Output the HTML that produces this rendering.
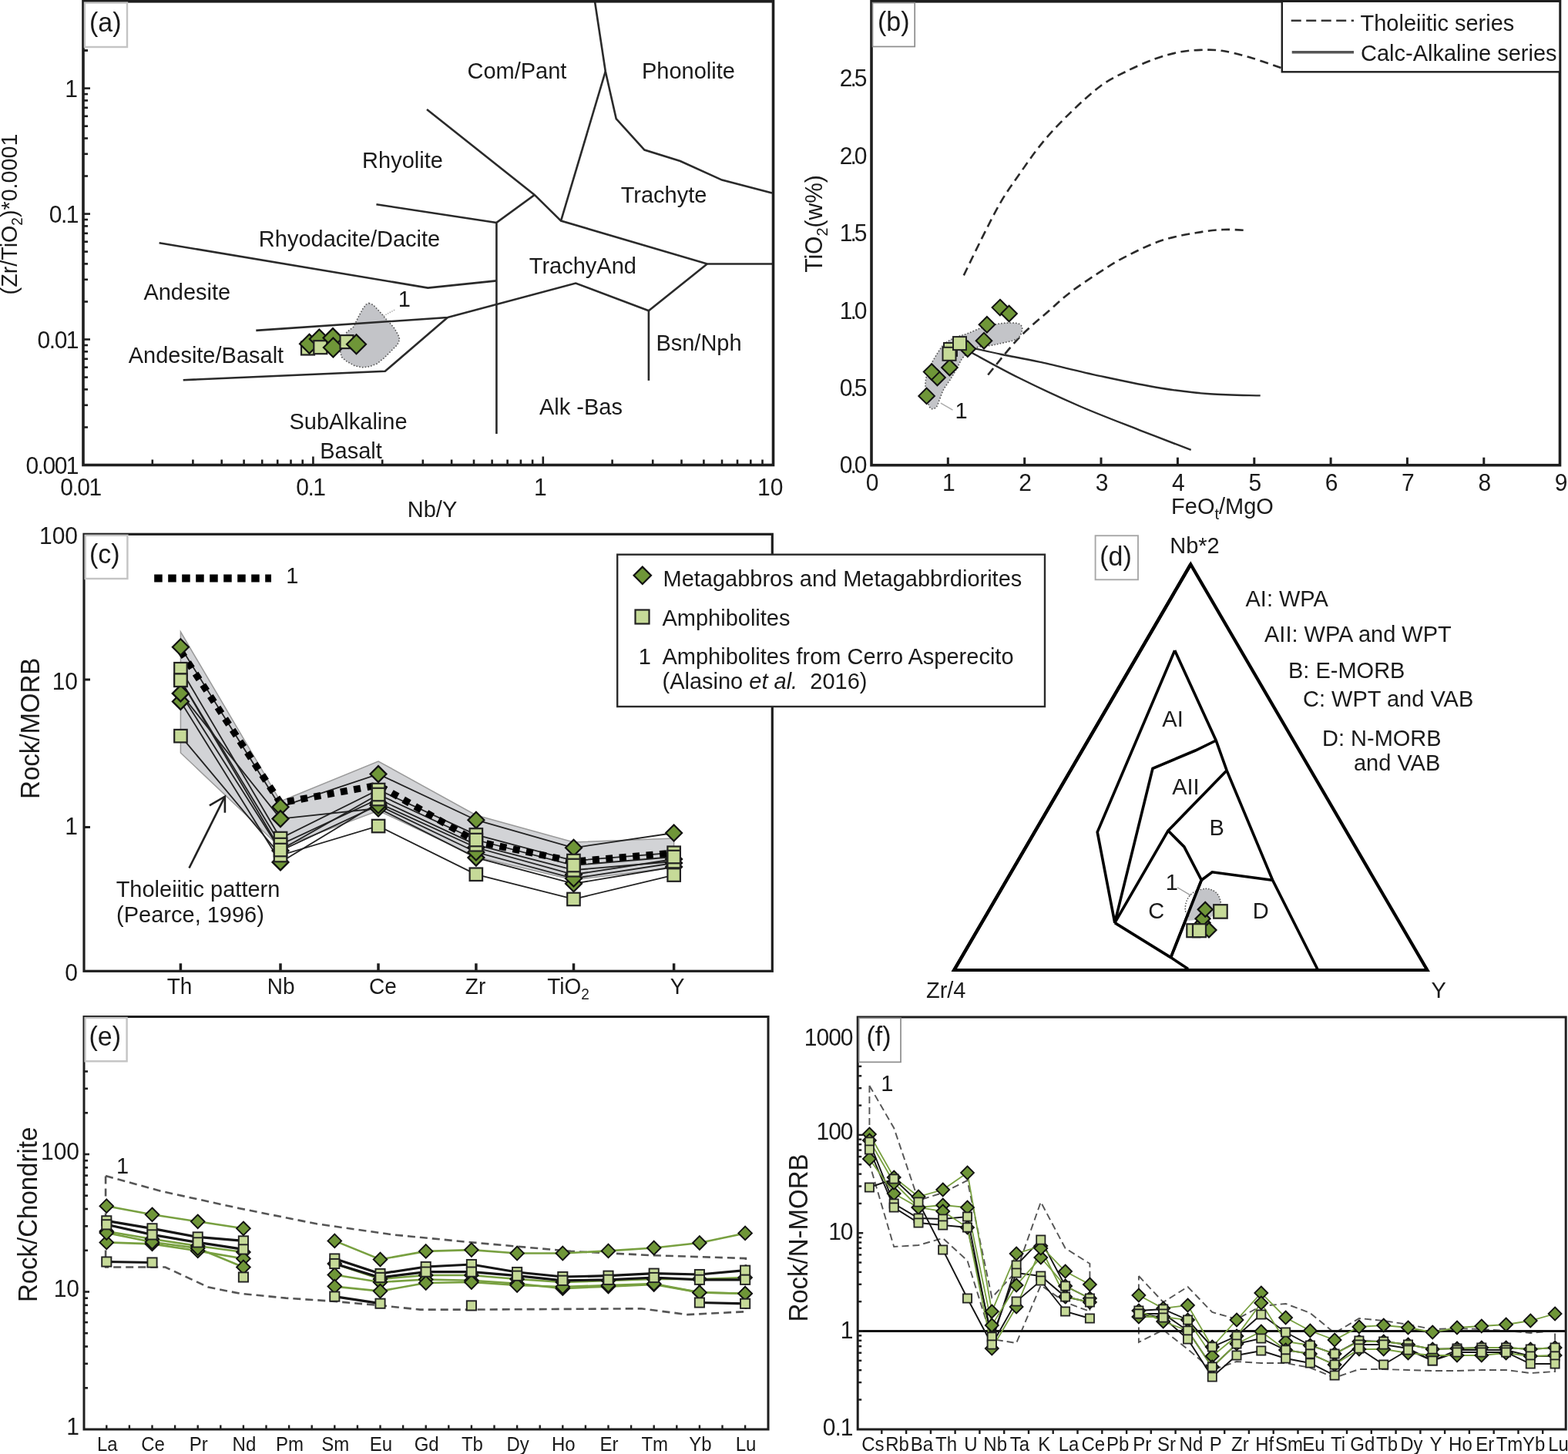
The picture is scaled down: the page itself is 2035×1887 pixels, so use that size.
<!DOCTYPE html>
<html><head><meta charset="utf-8"><title>Geochemical diagrams</title>
<style>
html,body{margin:0;padding:0;background:#fff;}
svg{display:block;font-family:'Liberation Sans', sans-serif;}
</style></head>
<body>
<svg width="2035" height="1887" viewBox="0 0 2035 1887">
<rect width="2035" height="1887" fill="#fff"/>
<polygon points="478.7,393.4 484.4,395.7 490.1,401.5 497.7,410.0 501.6,414.8 506.3,419.6 512.0,426.2 516.8,434.8 518.7,440.5 515.9,447.2 507.3,455.8 498.7,464.4 489.2,472.0 479.6,475.8 470.1,476.8 460.6,474.9 450.1,469.1 443.4,463.4 441.5,455.8 444.4,442.5 450.1,431.0 458.7,424.3 463.4,414.8 466.3,409.1 471.0,400.5 474.9,395.3" fill="#c3c4c8" stroke="#555" stroke-width="1.6" stroke-dasharray="1.6 2.2" stroke-linejoin="miter" />
<line x1="497.7" y1="410.0" x2="513.5" y2="401.5" stroke="#aaa" stroke-width="1.5" stroke-dasharray="1.5 1.5"/>
<polyline points="772.0,2.0 785.8,92.7 799.7,154.1 836.4,194.6 882.8,209.0 937.0,233.6 1002.0,250.5" fill="none" stroke="#2a2a2a" stroke-width="2.6" stroke-linejoin="miter" />
<polyline points="785.8,92.7 728.0,286.6" fill="none" stroke="#2a2a2a" stroke-width="2.6" stroke-linejoin="miter" />
<polyline points="554.0,142.1 693.8,252.9 728.0,286.6 917.8,342.5 1002.0,342.5" fill="none" stroke="#2a2a2a" stroke-width="2.6" stroke-linejoin="miter" />
<polyline points="693.8,252.9 644.4,289.0 644.4,563.0" fill="none" stroke="#2a2a2a" stroke-width="2.6" stroke-linejoin="miter" />
<polyline points="488.4,265.2 644.4,289.0" fill="none" stroke="#2a2a2a" stroke-width="2.6" stroke-linejoin="miter" />
<polyline points="206.6,315.2 555.3,373.6 644.4,364.4" fill="none" stroke="#2a2a2a" stroke-width="2.6" stroke-linejoin="miter" />
<polyline points="332.3,428.9 580.9,412.0 747.2,367.5 841.9,403.3 917.8,342.5" fill="none" stroke="#2a2a2a" stroke-width="2.6" stroke-linejoin="miter" />
<polyline points="841.9,403.3 841.9,493.9" fill="none" stroke="#2a2a2a" stroke-width="2.6" stroke-linejoin="miter" />
<polyline points="237.7,493.2 499.8,481.8 580.9,412.0" fill="none" stroke="#2a2a2a" stroke-width="2.6" stroke-linejoin="miter" />
<rect x="391.0" y="443.5" width="17.0" height="17.0" fill="#c6da98" stroke="#222" stroke-width="2.2"/>
<polygon points="401.5,433.8 414.0,446.3 401.5,458.8 389.0,446.3" fill="#6f9638" stroke="#111" stroke-width="2.2"/>
<polygon points="414.3,427.5 426.8,440.0 414.3,452.5 401.8,440.0" fill="#6f9638" stroke="#111" stroke-width="2.2"/>
<rect x="407.3" y="442.2" width="17.0" height="17.0" fill="#c6da98" stroke="#222" stroke-width="2.2"/>
<polygon points="432.0,426.1 444.5,438.6 432.0,451.1 419.5,438.6" fill="#6f9638" stroke="#111" stroke-width="2.2"/>
<polygon points="432.4,438.5 444.9,451.0 432.4,463.5 419.9,451.0" fill="#6f9638" stroke="#111" stroke-width="2.2"/>
<rect x="441.5" y="435.1" width="17.0" height="17.0" fill="#c6da98" stroke="#222" stroke-width="2.2"/>
<polygon points="462.5,434.2 475.0,446.7 462.5,459.2 450.0,446.7" fill="#6f9638" stroke="#111" stroke-width="2.2"/>
<rect x="108.0" y="1.8" width="895.5" height="601.7" fill="none" stroke="#1e1e1e" stroke-width="3.6"/>
<line x1="108.0" y1="554.5" x2="114.0" y2="554.5" stroke="#1e1e1e" stroke-width="2.6" />
<line x1="108.0" y1="525.8" x2="114.0" y2="525.8" stroke="#1e1e1e" stroke-width="2.6" />
<line x1="108.0" y1="505.4" x2="114.0" y2="505.4" stroke="#1e1e1e" stroke-width="2.6" />
<line x1="108.0" y1="489.6" x2="114.0" y2="489.6" stroke="#1e1e1e" stroke-width="2.6" />
<line x1="108.0" y1="476.7" x2="114.0" y2="476.7" stroke="#1e1e1e" stroke-width="2.6" />
<line x1="108.0" y1="465.8" x2="114.0" y2="465.8" stroke="#1e1e1e" stroke-width="2.6" />
<line x1="108.0" y1="456.3" x2="114.0" y2="456.3" stroke="#1e1e1e" stroke-width="2.6" />
<line x1="108.0" y1="448.0" x2="114.0" y2="448.0" stroke="#1e1e1e" stroke-width="2.6" />
<line x1="108.0" y1="440.5" x2="117.0" y2="440.5" stroke="#1e1e1e" stroke-width="2.6" />
<line x1="108.0" y1="391.5" x2="114.0" y2="391.5" stroke="#1e1e1e" stroke-width="2.6" />
<line x1="108.0" y1="362.8" x2="114.0" y2="362.8" stroke="#1e1e1e" stroke-width="2.6" />
<line x1="108.0" y1="342.4" x2="114.0" y2="342.4" stroke="#1e1e1e" stroke-width="2.6" />
<line x1="108.0" y1="326.6" x2="114.0" y2="326.6" stroke="#1e1e1e" stroke-width="2.6" />
<line x1="108.0" y1="313.7" x2="114.0" y2="313.7" stroke="#1e1e1e" stroke-width="2.6" />
<line x1="108.0" y1="302.8" x2="114.0" y2="302.8" stroke="#1e1e1e" stroke-width="2.6" />
<line x1="108.0" y1="293.4" x2="114.0" y2="293.4" stroke="#1e1e1e" stroke-width="2.6" />
<line x1="108.0" y1="285.0" x2="114.0" y2="285.0" stroke="#1e1e1e" stroke-width="2.6" />
<line x1="108.0" y1="277.6" x2="117.0" y2="277.6" stroke="#1e1e1e" stroke-width="2.6" />
<line x1="108.0" y1="228.5" x2="114.0" y2="228.5" stroke="#1e1e1e" stroke-width="2.6" />
<line x1="108.0" y1="199.8" x2="114.0" y2="199.8" stroke="#1e1e1e" stroke-width="2.6" />
<line x1="108.0" y1="179.5" x2="114.0" y2="179.5" stroke="#1e1e1e" stroke-width="2.6" />
<line x1="108.0" y1="163.7" x2="114.0" y2="163.7" stroke="#1e1e1e" stroke-width="2.6" />
<line x1="108.0" y1="150.8" x2="114.0" y2="150.8" stroke="#1e1e1e" stroke-width="2.6" />
<line x1="108.0" y1="139.8" x2="114.0" y2="139.8" stroke="#1e1e1e" stroke-width="2.6" />
<line x1="108.0" y1="130.4" x2="114.0" y2="130.4" stroke="#1e1e1e" stroke-width="2.6" />
<line x1="108.0" y1="122.1" x2="114.0" y2="122.1" stroke="#1e1e1e" stroke-width="2.6" />
<line x1="108.0" y1="114.6" x2="117.0" y2="114.6" stroke="#1e1e1e" stroke-width="2.6" />
<line x1="108.0" y1="65.5" x2="114.0" y2="65.5" stroke="#1e1e1e" stroke-width="2.6" />
<line x1="108.0" y1="36.8" x2="114.0" y2="36.8" stroke="#1e1e1e" stroke-width="2.6" />
<line x1="108.0" y1="16.5" x2="114.0" y2="16.5" stroke="#1e1e1e" stroke-width="2.6" />
<line x1="108.0" y1="65.5" x2="114.0" y2="65.5" stroke="#1e1e1e" stroke-width="2.6" />
<line x1="108.0" y1="36.8" x2="114.0" y2="36.8" stroke="#1e1e1e" stroke-width="2.6" />
<line x1="108.0" y1="16.5" x2="114.0" y2="16.5" stroke="#1e1e1e" stroke-width="2.6" />
<line x1="197.8" y1="603.5" x2="197.8" y2="596.5" stroke="#1e1e1e" stroke-width="2.6" />
<line x1="250.4" y1="603.5" x2="250.4" y2="596.5" stroke="#1e1e1e" stroke-width="2.6" />
<line x1="287.7" y1="603.5" x2="287.7" y2="596.5" stroke="#1e1e1e" stroke-width="2.6" />
<line x1="316.6" y1="603.5" x2="316.6" y2="596.5" stroke="#1e1e1e" stroke-width="2.6" />
<line x1="340.2" y1="603.5" x2="340.2" y2="596.5" stroke="#1e1e1e" stroke-width="2.6" />
<line x1="360.2" y1="603.5" x2="360.2" y2="596.5" stroke="#1e1e1e" stroke-width="2.6" />
<line x1="377.5" y1="603.5" x2="377.5" y2="596.5" stroke="#1e1e1e" stroke-width="2.6" />
<line x1="392.7" y1="603.5" x2="392.7" y2="596.5" stroke="#1e1e1e" stroke-width="2.6" />
<line x1="406.4" y1="603.5" x2="406.4" y2="592.5" stroke="#1e1e1e" stroke-width="2.6" />
<line x1="496.2" y1="603.5" x2="496.2" y2="596.5" stroke="#1e1e1e" stroke-width="2.6" />
<line x1="548.8" y1="603.5" x2="548.8" y2="596.5" stroke="#1e1e1e" stroke-width="2.6" />
<line x1="586.1" y1="603.5" x2="586.1" y2="596.5" stroke="#1e1e1e" stroke-width="2.6" />
<line x1="615.0" y1="603.5" x2="615.0" y2="596.5" stroke="#1e1e1e" stroke-width="2.6" />
<line x1="638.6" y1="603.5" x2="638.6" y2="596.5" stroke="#1e1e1e" stroke-width="2.6" />
<line x1="658.6" y1="603.5" x2="658.6" y2="596.5" stroke="#1e1e1e" stroke-width="2.6" />
<line x1="675.9" y1="603.5" x2="675.9" y2="596.5" stroke="#1e1e1e" stroke-width="2.6" />
<line x1="691.1" y1="603.5" x2="691.1" y2="596.5" stroke="#1e1e1e" stroke-width="2.6" />
<line x1="704.8" y1="603.5" x2="704.8" y2="592.5" stroke="#1e1e1e" stroke-width="2.6" />
<line x1="794.6" y1="603.5" x2="794.6" y2="596.5" stroke="#1e1e1e" stroke-width="2.6" />
<line x1="847.2" y1="603.5" x2="847.2" y2="596.5" stroke="#1e1e1e" stroke-width="2.6" />
<line x1="884.5" y1="603.5" x2="884.5" y2="596.5" stroke="#1e1e1e" stroke-width="2.6" />
<line x1="913.4" y1="603.5" x2="913.4" y2="596.5" stroke="#1e1e1e" stroke-width="2.6" />
<line x1="937.0" y1="603.5" x2="937.0" y2="596.5" stroke="#1e1e1e" stroke-width="2.6" />
<line x1="957.0" y1="603.5" x2="957.0" y2="596.5" stroke="#1e1e1e" stroke-width="2.6" />
<line x1="974.3" y1="603.5" x2="974.3" y2="596.5" stroke="#1e1e1e" stroke-width="2.6" />
<line x1="989.5" y1="603.5" x2="989.5" y2="596.5" stroke="#1e1e1e" stroke-width="2.6" />
<text transform="translate(101.0,126.1) scale(1,1.04)" font-size="30" text-anchor="end" fill="#1a1a1a" >1</text>
<text transform="translate(101.0,289.1) scale(1,1.04)" font-size="30" text-anchor="end" fill="#1a1a1a" letter-spacing="-1.5">0.1</text>
<text transform="translate(101.0,452.0) scale(1,1.04)" font-size="30" text-anchor="end" fill="#1a1a1a" letter-spacing="-1.5">0.01</text>
<text transform="translate(101.0,615.0) scale(1,1.04)" font-size="30" text-anchor="end" fill="#1a1a1a" letter-spacing="-1.5">0.001</text>
<text transform="translate(104.5,642.8) scale(1,1.04)" font-size="30" text-anchor="middle" fill="#1a1a1a" letter-spacing="-1.5">0.01</text>
<text transform="translate(402.9,642.8) scale(1,1.04)" font-size="30" text-anchor="middle" fill="#1a1a1a" letter-spacing="-1.5">0.1</text>
<text transform="translate(701.3,642.8) scale(1,1.04)" font-size="30" text-anchor="middle" fill="#1a1a1a" >1</text>
<text transform="translate(999.7,642.8) scale(1,1.04)" font-size="30" text-anchor="middle" fill="#1a1a1a" >10</text>
<text transform="translate(561.0,671.0) scale(1,1.04)" font-size="29" text-anchor="middle" fill="#1a1a1a" >Nb/Y</text>
<text transform="translate(22.0,278.0) rotate(-90) scale(1,1.04)" font-size="28.7" text-anchor="middle" fill="#1a1a1a" >(Zr/TiO<tspan font-size="19" dy="7">2</tspan><tspan dy="-7">)*0.0001</tspan></text>
<text transform="translate(670.9,101.6) scale(1,1.04)" font-size="29" text-anchor="middle" fill="#1a1a1a" >Com/Pant</text>
<text transform="translate(893.4,101.6) scale(1,1.04)" font-size="29" text-anchor="middle" fill="#1a1a1a" >Phonolite</text>
<text transform="translate(522.5,218.2) scale(1,1.04)" font-size="29" text-anchor="middle" fill="#1a1a1a" >Rhyolite</text>
<text transform="translate(861.5,263.0) scale(1,1.04)" font-size="29" text-anchor="middle" fill="#1a1a1a" >Trachyte</text>
<text transform="translate(453.5,320.0) scale(1,1.04)" font-size="29" text-anchor="middle" fill="#1a1a1a" >Rhyodacite/Dacite</text>
<text transform="translate(756.4,355.3) scale(1,1.04)" font-size="29" text-anchor="middle" fill="#1a1a1a" >TrachyAnd</text>
<text transform="translate(242.8,388.6) scale(1,1.04)" font-size="29" text-anchor="middle" fill="#1a1a1a" >Andesite</text>
<text transform="translate(907.0,454.7) scale(1,1.04)" font-size="29" text-anchor="middle" fill="#1a1a1a" >Bsn/Nph</text>
<text transform="translate(267.4,470.9) scale(1,1.04)" font-size="29" text-anchor="middle" fill="#1a1a1a" >Andesite/Basalt</text>
<text transform="translate(754.0,537.5) scale(1,1.04)" font-size="29" text-anchor="middle" fill="#1a1a1a" >Alk -Bas</text>
<text transform="translate(452.0,557.3) scale(1,1.04)" font-size="29" text-anchor="middle" fill="#1a1a1a" >SubAlkaline</text>
<text transform="translate(455.5,594.8) scale(1,1.04)" font-size="29" text-anchor="middle" fill="#1a1a1a" >Basalt</text>
<text transform="translate(524.8,398.2) scale(1,1.04)" font-size="29" text-anchor="middle" fill="#1a1a1a" >1</text>
<rect x="110.0" y="3.6" width="55.0" height="57.4" fill="#fff" stroke="#c4c4c4" stroke-width="2.4"/>
<text transform="translate(116.0,40.5) scale(1,1.04)" font-size="34" text-anchor="start" fill="#1a1a1a" >(a)</text>
<path d="M1250.8,357.4 C1255.0,348.7 1268.1,321.4 1276.2,305.4 C1284.3,289.4 1291.5,274.7 1299.2,261.6 C1306.9,248.5 1313.1,240.1 1322.3,227.0 C1331.5,213.9 1343.0,196.9 1354.6,183.1 C1366.1,169.2 1379.3,155.8 1391.6,143.9 C1403.9,132.0 1417.0,120.0 1428.5,111.5 C1440.0,103.0 1449.3,98.9 1460.8,93.1 C1472.3,87.3 1486.2,81.1 1497.7,76.9 C1509.2,72.7 1520.0,69.7 1530.0,67.7 C1540.0,65.7 1548.5,65.2 1557.7,64.9 C1566.9,64.6 1574.6,64.2 1585.4,65.8 C1596.2,67.4 1609.3,70.8 1622.4,74.6 C1635.5,78.4 1657.0,86.2 1663.9,88.5" fill="none" stroke="#2a2a2a" stroke-width="2.6" stroke-dasharray="11 6.5"/>
<path d="M1282.2,486.5 C1288.9,478.5 1309.3,452.2 1322.6,438.3 C1335.9,424.4 1350.7,412.8 1361.8,403.0 C1372.9,393.2 1378.5,387.5 1389.2,379.3 C1399.9,371.1 1414.3,361.6 1426.2,353.9 C1438.1,346.2 1447.3,340.0 1460.8,333.1 C1474.3,326.2 1491.6,317.5 1507.0,312.3 C1522.4,307.1 1539.6,304.4 1553.1,302.0 C1566.5,299.6 1576.7,298.5 1587.7,298.0 C1598.7,297.5 1613.7,298.8 1618.9,299.0" fill="none" stroke="#2a2a2a" stroke-width="2.6" stroke-dasharray="11 6.5"/>
<path d="M1201.3,505.6 C1201.0,501.6 1200.7,498.6 1201.3,494.3 C1201.9,490.0 1203.3,484.6 1205.0,480.0 C1206.7,475.4 1208.4,472.0 1211.7,466.6 C1215.0,461.2 1219.9,452.3 1224.6,447.5 C1229.3,442.7 1234.8,440.4 1240.0,438.0 C1245.2,435.6 1250.0,435.0 1255.8,432.8 C1261.6,430.6 1268.8,427.0 1275.0,425.0 C1281.2,423.0 1287.2,421.7 1293.0,420.7 C1298.8,419.7 1304.9,419.0 1310.0,419.0 C1315.1,419.0 1320.7,419.1 1323.4,420.7 C1326.2,422.3 1327.1,425.3 1326.5,428.5 C1325.9,431.7 1324.6,436.9 1319.9,439.8 C1315.2,442.7 1304.1,444.4 1298.3,445.8 C1292.5,447.2 1290.3,447.5 1285.3,448.4 C1280.2,449.3 1273.8,448.6 1268.0,451.0 C1262.2,453.4 1254.9,458.6 1250.6,463.1 C1246.3,467.6 1244.9,473.0 1242.0,477.9 C1239.1,482.8 1236.2,488.0 1233.3,492.6 C1230.4,497.2 1226.9,501.3 1224.6,505.6 C1222.3,509.9 1221.0,514.8 1219.4,518.6 C1217.8,522.4 1216.9,526.6 1215.0,528.5 C1213.1,530.4 1210.0,531.6 1208.0,530.0 C1206.0,528.4 1204.1,522.7 1203.0,518.6 C1201.9,514.5 1201.6,509.7 1201.3,505.6 Z" fill="#c3c4c8" stroke="#555" stroke-width="1.6" stroke-dasharray="1.6 2.2"/>
<path d="M1259.4,451.0 C1266.2,452.5 1285.1,456.9 1300.0,460.0 C1314.9,463.1 1327.5,465.0 1348.7,469.6 C1369.9,474.2 1400.9,482.2 1427.0,487.8 C1453.1,493.4 1481.4,499.6 1505.3,503.5 C1529.2,507.4 1548.8,509.7 1570.5,511.3 C1592.2,513.0 1624.8,513.0 1635.7,513.4" fill="none" stroke="#2a2a2a" stroke-width="2.4"/>
<path d="M1258.0,456.0 C1268.8,461.8 1298.8,478.7 1322.6,490.5 C1346.4,502.3 1374.9,515.7 1401.0,527.0 C1427.1,538.3 1455.1,548.8 1479.2,558.3 C1503.3,567.8 1534.6,579.6 1545.7,583.9" fill="none" stroke="#2a2a2a" stroke-width="2.4"/>
<line x1="1220.9" y1="523.1" x2="1236.5" y2="532.2" stroke="#aaa" stroke-width="1.5" />
<text transform="translate(1247.6,542.6) scale(1,1.04)" font-size="29" text-anchor="middle" fill="#1a1a1a" >1</text>
<polygon points="1202.6,503.6 1212.9,513.9 1202.6,524.2 1192.3,513.9" fill="#6f9638" stroke="#111" stroke-width="2"/>
<polygon points="1216.5,479.7 1226.8,490.0 1216.5,500.3 1206.2,490.0" fill="#6f9638" stroke="#111" stroke-width="2"/>
<polygon points="1209.1,472.3 1219.4,482.6 1209.1,492.9 1198.8,482.6" fill="#6f9638" stroke="#111" stroke-width="2"/>
<polygon points="1232.4,466.7 1242.7,477.0 1232.4,487.3 1222.1,477.0" fill="#6f9638" stroke="#111" stroke-width="2"/>
<rect x="1225.0" y="445.0" width="17.0" height="17.0" fill="#c6da98" stroke="#222" stroke-width="2"/>
<rect x="1223.5" y="450.8" width="17.0" height="17.0" fill="#c6da98" stroke="#222" stroke-width="2"/>
<polygon points="1255.8,442.4 1266.1,452.7 1255.8,463.0 1245.5,452.7" fill="#6f9638" stroke="#111" stroke-width="2"/>
<rect x="1237.0" y="437.1" width="17.0" height="17.0" fill="#c6da98" stroke="#222" stroke-width="2"/>
<polygon points="1277.0,431.9 1287.3,442.2 1277.0,452.5 1266.7,442.2" fill="#6f9638" stroke="#111" stroke-width="2"/>
<polygon points="1280.9,411.0 1291.2,421.3 1280.9,431.6 1270.6,421.3" fill="#6f9638" stroke="#111" stroke-width="2"/>
<polygon points="1297.9,388.8 1308.2,399.1 1297.9,409.4 1287.6,399.1" fill="#6f9638" stroke="#111" stroke-width="2"/>
<polygon points="1309.6,396.7 1319.9,407.0 1309.6,417.3 1299.3,407.0" fill="#6f9638" stroke="#111" stroke-width="2"/>
<rect x="1131.0" y="1.8" width="893.5" height="601.9" fill="none" stroke="#1e1e1e" stroke-width="3.6"/>
<line x1="1230.3" y1="603.7" x2="1230.3" y2="593.7" stroke="#1e1e1e" stroke-width="3" />
<line x1="1329.7" y1="603.7" x2="1329.7" y2="593.7" stroke="#1e1e1e" stroke-width="3" />
<line x1="1429.0" y1="603.7" x2="1429.0" y2="593.7" stroke="#1e1e1e" stroke-width="3" />
<line x1="1528.4" y1="603.7" x2="1528.4" y2="593.7" stroke="#1e1e1e" stroke-width="3" />
<line x1="1627.8" y1="603.7" x2="1627.8" y2="593.7" stroke="#1e1e1e" stroke-width="3" />
<line x1="1727.1" y1="603.7" x2="1727.1" y2="593.7" stroke="#1e1e1e" stroke-width="3" />
<line x1="1826.4" y1="603.7" x2="1826.4" y2="593.7" stroke="#1e1e1e" stroke-width="3" />
<line x1="1925.8" y1="603.7" x2="1925.8" y2="593.7" stroke="#1e1e1e" stroke-width="3" />
<text transform="translate(1132.0,636.5) scale(1,1.04)" font-size="30" text-anchor="middle" fill="#1a1a1a" >0</text>
<text transform="translate(1231.3,636.5) scale(1,1.04)" font-size="30" text-anchor="middle" fill="#1a1a1a" >1</text>
<text transform="translate(1330.7,636.5) scale(1,1.04)" font-size="30" text-anchor="middle" fill="#1a1a1a" >2</text>
<text transform="translate(1430.0,636.5) scale(1,1.04)" font-size="30" text-anchor="middle" fill="#1a1a1a" >3</text>
<text transform="translate(1529.4,636.5) scale(1,1.04)" font-size="30" text-anchor="middle" fill="#1a1a1a" >4</text>
<text transform="translate(1628.8,636.5) scale(1,1.04)" font-size="30" text-anchor="middle" fill="#1a1a1a" >5</text>
<text transform="translate(1728.1,636.5) scale(1,1.04)" font-size="30" text-anchor="middle" fill="#1a1a1a" >6</text>
<text transform="translate(1827.4,636.5) scale(1,1.04)" font-size="30" text-anchor="middle" fill="#1a1a1a" >7</text>
<text transform="translate(1926.8,636.5) scale(1,1.04)" font-size="30" text-anchor="middle" fill="#1a1a1a" >8</text>
<text transform="translate(2026.2,636.5) scale(1,1.04)" font-size="30" text-anchor="middle" fill="#1a1a1a" >9</text>
<text transform="translate(1122.5,614.4) scale(1,1.04)" font-size="30" text-anchor="end" fill="#1a1a1a" letter-spacing="-3">0.0</text>
<text transform="translate(1122.5,514.0) scale(1,1.04)" font-size="30" text-anchor="end" fill="#1a1a1a" letter-spacing="-3">0.5</text>
<text transform="translate(1122.5,413.5) scale(1,1.04)" font-size="30" text-anchor="end" fill="#1a1a1a" letter-spacing="-3">1.0</text>
<text transform="translate(1122.5,313.1) scale(1,1.04)" font-size="30" text-anchor="end" fill="#1a1a1a" letter-spacing="-3">1.5</text>
<text transform="translate(1122.5,212.6) scale(1,1.04)" font-size="30" text-anchor="end" fill="#1a1a1a" letter-spacing="-3">2.0</text>
<text transform="translate(1122.5,112.2) scale(1,1.04)" font-size="30" text-anchor="end" fill="#1a1a1a" letter-spacing="-3">2.5</text>
<text transform="translate(1586.5,667.2) scale(1,1.04)" font-size="29" text-anchor="middle" fill="#1a1a1a" >FeO<tspan font-size="20" dy="7">t</tspan><tspan dy="-7">/MgO</tspan></text>
<text transform="translate(1067.0,290.5) rotate(-90) scale(1,1.04)" font-size="30" text-anchor="middle" fill="#1a1a1a" >TiO<tspan font-size="20" dy="7">2</tspan><tspan dy="-7">(w%)</tspan></text>
<rect x="1663.8" y="1.8" width="360.7" height="91.5" fill="#fff" stroke="#1e1e1e" stroke-width="2.4"/>
<line x1="1675.7" y1="26.8" x2="1757.0" y2="26.8" stroke="#333" stroke-width="2.5" stroke-dasharray="13 6.5"/>
<line x1="1676.7" y1="67.8" x2="1757.0" y2="67.8" stroke="#555" stroke-width="3.6" />
<text transform="translate(1765.5,39.6) scale(1,1.04)" font-size="29" text-anchor="start" fill="#1a1a1a" >Tholeiitic series</text>
<text transform="translate(1766.0,78.9) scale(1,1.04)" font-size="29" text-anchor="start" fill="#1a1a1a" >Calc-Alkaline series</text>
<rect x="1132.5" y="3.6" width="54.7" height="56.9" fill="#fff" stroke="#8c8c8c" stroke-width="1.7"/>
<text transform="translate(1139.0,40.4) scale(1,1.04)" font-size="34" text-anchor="start" fill="#1a1a1a" >(b)</text>
<polygon points="234.4,820.0 364.0,1040.0 491.0,988.0 617.9,1058.0 744.5,1093.0 874.6,1088.0 874.6,1126.0 744.5,1142.0 617.9,1112.0 491.0,1052.0 364.0,1100.0 234.4,977.0" fill="#d2d3d6" stroke="#9a9a9a" stroke-width="1.5" stroke-linejoin="miter" />
<polyline points="234.4,839.8 364.0,1047.2 491.0,1004.6 617.9,1064.2 744.5,1100.3 874.6,1081.0" fill="none" stroke="#222" stroke-width="1.8" stroke-linejoin="miter" />
<polyline points="234.4,868.2 364.0,1088.0 491.0,1025.0 617.9,1083.4 744.5,1117.1 874.6,1106.7" fill="none" stroke="#222" stroke-width="1.8" stroke-linejoin="miter" />
<polyline points="234.4,882.8 364.0,1096.0 491.0,1037.0 617.9,1096.3 744.5,1129.2 874.6,1118.0" fill="none" stroke="#222" stroke-width="1.8" stroke-linejoin="miter" />
<polyline points="234.4,899.9 364.0,1062.6 491.0,1049.0 617.9,1113.1 744.5,1146.8 874.6,1125.0" fill="none" stroke="#222" stroke-width="1.8" stroke-linejoin="miter" />
<polyline points="234.4,910.4 364.0,1118.9 491.0,1042.0 617.9,1100.0 744.5,1135.0 874.6,1115.0" fill="none" stroke="#222" stroke-width="1.8" stroke-linejoin="miter" />
<polyline points="234.4,955.1 364.0,1110.0 491.0,1072.0 617.9,1134.8 744.5,1166.9 874.6,1135.6" fill="none" stroke="#222" stroke-width="1.8" stroke-linejoin="miter" />
<polyline points="234.4,882.8 364.0,1103.0 491.0,1031.0 617.9,1090.0 744.5,1123.0 874.6,1112.0" fill="none" stroke="#222" stroke-width="1.8" stroke-linejoin="miter" />
<polyline points="234.4,899.9 364.0,1104.0 491.0,1045.0 617.9,1106.0 744.5,1140.0 874.6,1120.0" fill="none" stroke="#222" stroke-width="1.8" stroke-linejoin="miter" />
<polyline points="234.4,845.0 364.0,1042.0 491.0,1019.0 617.9,1092.0 744.5,1118.0 874.6,1107.0" fill="none" stroke="#000" stroke-width="9" stroke-dasharray="9 8.5" stroke-linejoin="miter" />
<polygon points="234.4,829.3 244.9,839.8 234.4,850.3 223.9,839.8" fill="#6f9638" stroke="#111" stroke-width="2.2"/>
<polygon points="364.0,1036.7 374.5,1047.2 364.0,1057.7 353.5,1047.2" fill="#6f9638" stroke="#111" stroke-width="2.2"/>
<polygon points="491.0,994.1 501.5,1004.6 491.0,1015.1 480.5,1004.6" fill="#6f9638" stroke="#111" stroke-width="2.2"/>
<polygon points="617.9,1053.7 628.4,1064.2 617.9,1074.7 607.4,1064.2" fill="#6f9638" stroke="#111" stroke-width="2.2"/>
<polygon points="744.5,1089.8 755.0,1100.3 744.5,1110.8 734.0,1100.3" fill="#6f9638" stroke="#111" stroke-width="2.2"/>
<polygon points="874.6,1070.5 885.1,1081.0 874.6,1091.5 864.1,1081.0" fill="#6f9638" stroke="#111" stroke-width="2.2"/>
<polygon points="234.4,889.4 244.9,899.9 234.4,910.4 223.9,899.9" fill="#6f9638" stroke="#111" stroke-width="2.2"/>
<polygon points="364.0,1052.1 374.5,1062.6 364.0,1073.1 353.5,1062.6" fill="#6f9638" stroke="#111" stroke-width="2.2"/>
<polygon points="491.0,1038.5 501.5,1049.0 491.0,1059.5 480.5,1049.0" fill="#6f9638" stroke="#111" stroke-width="2.2"/>
<polygon points="617.9,1102.6 628.4,1113.1 617.9,1123.6 607.4,1113.1" fill="#6f9638" stroke="#111" stroke-width="2.2"/>
<polygon points="744.5,1136.3 755.0,1146.8 744.5,1157.3 734.0,1146.8" fill="#6f9638" stroke="#111" stroke-width="2.2"/>
<polygon points="874.6,1114.5 885.1,1125.0 874.6,1135.5 864.1,1125.0" fill="#6f9638" stroke="#111" stroke-width="2.2"/>
<polygon points="234.4,899.9 244.9,910.4 234.4,920.9 223.9,910.4" fill="#6f9638" stroke="#111" stroke-width="2.2"/>
<polygon points="364.0,1108.4 374.5,1118.9 364.0,1129.4 353.5,1118.9" fill="#6f9638" stroke="#111" stroke-width="2.2"/>
<polygon points="491.0,1031.5 501.5,1042.0 491.0,1052.5 480.5,1042.0" fill="#6f9638" stroke="#111" stroke-width="2.2"/>
<polygon points="617.9,1089.5 628.4,1100.0 617.9,1110.5 607.4,1100.0" fill="#6f9638" stroke="#111" stroke-width="2.2"/>
<polygon points="744.5,1124.5 755.0,1135.0 744.5,1145.5 734.0,1135.0" fill="#6f9638" stroke="#111" stroke-width="2.2"/>
<polygon points="874.6,1104.5 885.1,1115.0 874.6,1125.5 864.1,1115.0" fill="#6f9638" stroke="#111" stroke-width="2.2"/>
<polygon points="234.4,889.4 244.9,899.9 234.4,910.4 223.9,899.9" fill="#6f9638" stroke="#111" stroke-width="2.2"/>
<polygon points="364.0,1093.5 374.5,1104.0 364.0,1114.5 353.5,1104.0" fill="#6f9638" stroke="#111" stroke-width="2.2"/>
<polygon points="491.0,1034.5 501.5,1045.0 491.0,1055.5 480.5,1045.0" fill="#6f9638" stroke="#111" stroke-width="2.2"/>
<polygon points="617.9,1095.5 628.4,1106.0 617.9,1116.5 607.4,1106.0" fill="#6f9638" stroke="#111" stroke-width="2.2"/>
<polygon points="744.5,1129.5 755.0,1140.0 744.5,1150.5 734.0,1140.0" fill="#6f9638" stroke="#111" stroke-width="2.2"/>
<polygon points="874.6,1109.5 885.1,1120.0 874.6,1130.5 864.1,1120.0" fill="#6f9638" stroke="#111" stroke-width="2.2"/>
<rect x="226.2" y="860.0" width="16.5" height="16.5" fill="#c6da98" stroke="#222" stroke-width="2.2"/>
<rect x="355.8" y="1079.8" width="16.5" height="16.5" fill="#c6da98" stroke="#222" stroke-width="2.2"/>
<rect x="482.8" y="1016.8" width="16.5" height="16.5" fill="#c6da98" stroke="#222" stroke-width="2.2"/>
<rect x="609.6" y="1075.2" width="16.5" height="16.5" fill="#c6da98" stroke="#222" stroke-width="2.2"/>
<rect x="736.2" y="1108.8" width="16.5" height="16.5" fill="#c6da98" stroke="#222" stroke-width="2.2"/>
<rect x="866.4" y="1098.5" width="16.5" height="16.5" fill="#c6da98" stroke="#222" stroke-width="2.2"/>
<rect x="226.2" y="874.5" width="16.5" height="16.5" fill="#c6da98" stroke="#222" stroke-width="2.2"/>
<rect x="355.8" y="1087.8" width="16.5" height="16.5" fill="#c6da98" stroke="#222" stroke-width="2.2"/>
<rect x="482.8" y="1028.8" width="16.5" height="16.5" fill="#c6da98" stroke="#222" stroke-width="2.2"/>
<rect x="609.6" y="1088.0" width="16.5" height="16.5" fill="#c6da98" stroke="#222" stroke-width="2.2"/>
<rect x="736.2" y="1121.0" width="16.5" height="16.5" fill="#c6da98" stroke="#222" stroke-width="2.2"/>
<rect x="866.4" y="1109.8" width="16.5" height="16.5" fill="#c6da98" stroke="#222" stroke-width="2.2"/>
<rect x="226.2" y="946.9" width="16.5" height="16.5" fill="#c6da98" stroke="#222" stroke-width="2.2"/>
<rect x="355.8" y="1101.8" width="16.5" height="16.5" fill="#c6da98" stroke="#222" stroke-width="2.2"/>
<rect x="482.8" y="1063.8" width="16.5" height="16.5" fill="#c6da98" stroke="#222" stroke-width="2.2"/>
<rect x="609.6" y="1126.5" width="16.5" height="16.5" fill="#c6da98" stroke="#222" stroke-width="2.2"/>
<rect x="736.2" y="1158.7" width="16.5" height="16.5" fill="#c6da98" stroke="#222" stroke-width="2.2"/>
<rect x="866.4" y="1127.3" width="16.5" height="16.5" fill="#c6da98" stroke="#222" stroke-width="2.2"/>
<rect x="226.2" y="874.5" width="16.5" height="16.5" fill="#c6da98" stroke="#222" stroke-width="2.2"/>
<rect x="355.8" y="1094.8" width="16.5" height="16.5" fill="#c6da98" stroke="#222" stroke-width="2.2"/>
<rect x="482.8" y="1022.8" width="16.5" height="16.5" fill="#c6da98" stroke="#222" stroke-width="2.2"/>
<rect x="609.6" y="1081.8" width="16.5" height="16.5" fill="#c6da98" stroke="#222" stroke-width="2.2"/>
<rect x="736.2" y="1114.8" width="16.5" height="16.5" fill="#c6da98" stroke="#222" stroke-width="2.2"/>
<rect x="866.4" y="1103.8" width="16.5" height="16.5" fill="#c6da98" stroke="#222" stroke-width="2.2"/>
<rect x="109.0" y="693.3" width="893.3" height="567.0" fill="none" stroke="#1e1e1e" stroke-width="3.2"/>
<line x1="234.4" y1="1260.3" x2="234.4" y2="1250.3" stroke="#1e1e1e" stroke-width="3.5" />
<line x1="364.0" y1="1260.3" x2="364.0" y2="1250.3" stroke="#1e1e1e" stroke-width="3.5" />
<line x1="491.0" y1="1260.3" x2="491.0" y2="1250.3" stroke="#1e1e1e" stroke-width="3.5" />
<line x1="617.9" y1="1260.3" x2="617.9" y2="1250.3" stroke="#1e1e1e" stroke-width="3.5" />
<line x1="744.5" y1="1260.3" x2="744.5" y2="1250.3" stroke="#1e1e1e" stroke-width="3.5" />
<line x1="874.6" y1="1260.3" x2="874.6" y2="1250.3" stroke="#1e1e1e" stroke-width="3.5" />
<line x1="109.0" y1="882.0" x2="117.0" y2="882.0" stroke="#1e1e1e" stroke-width="3" />
<line x1="109.0" y1="1073.5" x2="117.0" y2="1073.5" stroke="#1e1e1e" stroke-width="3" />
<text transform="translate(101.0,706.1) scale(1,1.04)" font-size="30" text-anchor="end" fill="#1a1a1a" >100</text>
<text transform="translate(101.0,894.8) scale(1,1.04)" font-size="30" text-anchor="end" fill="#1a1a1a" >10</text>
<text transform="translate(101.0,1083.3) scale(1,1.04)" font-size="30" text-anchor="end" fill="#1a1a1a" >1</text>
<text transform="translate(101.0,1273.1) scale(1,1.04)" font-size="30" text-anchor="end" fill="#1a1a1a" >0</text>
<text transform="translate(233.0,1289.8) scale(1,1.04)" font-size="28" text-anchor="middle" fill="#1a1a1a" >Th</text>
<text transform="translate(364.6,1289.8) scale(1,1.04)" font-size="28" text-anchor="middle" fill="#1a1a1a" >Nb</text>
<text transform="translate(497.0,1289.8) scale(1,1.04)" font-size="28" text-anchor="middle" fill="#1a1a1a" >Ce</text>
<text transform="translate(617.0,1289.8) scale(1,1.04)" font-size="28" text-anchor="middle" fill="#1a1a1a" >Zr</text>
<text transform="translate(879.0,1289.8) scale(1,1.04)" font-size="28" text-anchor="middle" fill="#1a1a1a" >Y</text>
<text transform="translate(737.5,1289.8) scale(1,1.04)" font-size="28" text-anchor="middle" fill="#1a1a1a" >TiO<tspan font-size="19" dy="7">2</tspan></text>
<text transform="translate(50.5,945.3) rotate(-90) scale(1,1.04)" font-size="33" text-anchor="middle" fill="#1a1a1a" >Rock/MORB</text>
<line x1="200.2" y1="750.6" x2="352.0" y2="750.6" stroke="#000" stroke-width="10" stroke-dasharray="10.5 7.5"/>
<text transform="translate(379.3,757.0) scale(1,1.04)" font-size="29" text-anchor="middle" fill="#1a1a1a" >1</text>
<text transform="translate(257.0,1164.4) scale(1,1.04)" font-size="29" text-anchor="middle" fill="#1a1a1a" >Tholeiitic pattern</text>
<text transform="translate(247.0,1197.0) scale(1,1.04)" font-size="29" text-anchor="middle" fill="#1a1a1a" >(Pearce, 1996)</text>
<line x1="245.5" y1="1126.5" x2="291.9" y2="1033.7" stroke="#222" stroke-width="2.6" />
<polyline points="271.9,1045.3 291.9,1033.7 291.9,1054.8" fill="none" stroke="#222" stroke-width="2.6" stroke-linejoin="miter" />
<rect x="110.6" y="694.8" width="54.8" height="56.2" fill="#fff" stroke="#c4c4c4" stroke-width="2.4"/>
<text transform="translate(116.0,731.0) scale(1,1.04)" font-size="34" text-anchor="start" fill="#1a1a1a" >(c)</text>
<rect x="801.2" y="719.7" width="554.8" height="197.3" fill="#fff" stroke="#2a2a2a" stroke-width="2.4"/>
<polygon points="833.8,735.6 845.0,746.8 833.8,758.0 822.6,746.8" fill="#6f9638" stroke="#111" stroke-width="2.2"/>
<rect x="824.5" y="791.5" width="18.0" height="18.0" fill="#c6da98" stroke="#222" stroke-width="2.2"/>
<text transform="translate(860.5,760.7) scale(1,1.04)" font-size="29" text-anchor="start" fill="#1a1a1a" >Metagabbros and Metagabbrdiorites</text>
<text transform="translate(859.5,811.6) scale(1,1.04)" font-size="29" text-anchor="start" fill="#1a1a1a" >Amphibolites</text>
<text transform="translate(836.8,862.1) scale(1,1.04)" font-size="29" text-anchor="middle" fill="#1a1a1a" >1</text>
<text transform="translate(859.5,862.1) scale(1,1.04)" font-size="29" text-anchor="start" fill="#1a1a1a" >Amphibolites from Cerro Asperecito</text>
<text transform="translate(859.5,893.7) scale(1,1.04)" font-size="29" text-anchor="start" fill="#1a1a1a" xml:space="preserve">(Alasino <tspan font-style="italic">et al.</tspan>  2016)</text>
<polyline points="1545.3,732.4 1238.3,1259.0 1852.3,1259.0" fill="none" stroke="#000" stroke-width="4.2" stroke-linejoin="miter" />
<polygon points="1545.3,732.4 1238.3,1259 1852.3,1259" fill="none" stroke="#000" stroke-width="4.2" stroke-linejoin="miter"/>
<polyline points="1524.6,844.1 1424.2,1079.9 1446.8,1197.6" fill="none" stroke="#000" stroke-width="3.6" stroke-linejoin="miter" />
<polyline points="1524.6,844.1 1578.2,961.0 1592.1,999.9 1651.4,1141.7 1710.5,1259.0" fill="none" stroke="#000" stroke-width="3.6" stroke-linejoin="miter" />
<polyline points="1578.2,961.0 1551.4,974.0 1496.0,997.3 1446.8,1197.6" fill="none" stroke="#000" stroke-width="3.6" stroke-linejoin="miter" />
<polyline points="1592.1,999.9 1516.0,1078.1 1446.8,1197.6" fill="none" stroke="#000" stroke-width="3.6" stroke-linejoin="miter" />
<polyline points="1516.0,1078.1 1536.8,1098.9 1559.3,1142.2 1519.5,1242.6" fill="none" stroke="#000" stroke-width="3.6" stroke-linejoin="miter" />
<polyline points="1559.3,1142.2 1573.2,1131.8 1651.1,1142.2" fill="none" stroke="#000" stroke-width="3.6" stroke-linejoin="miter" />
<polyline points="1446.8,1197.6 1519.5,1242.6 1542.0,1257.4" fill="none" stroke="#000" stroke-width="3.6" stroke-linejoin="miter" />
<path d="M1552.2,1160.0 C1555.1,1153.9 1554.9,1156.6 1557.0,1155.5 C1559.1,1154.4 1562.2,1153.3 1565.0,1153.3 C1567.8,1153.3 1571.4,1154.2 1574.0,1155.5 C1576.6,1156.8 1578.8,1158.6 1580.5,1161.0 C1582.2,1163.4 1583.8,1166.8 1584.2,1170.0 C1584.6,1173.2 1585.0,1176.7 1583.0,1180.0 C1581.0,1183.3 1576.5,1187.8 1572.0,1190.0 C1567.5,1192.2 1561.4,1192.7 1556.0,1193.0 C1550.6,1193.3 1540.1,1197.5 1539.5,1192.0 C1538.9,1186.5 1549.3,1166.1 1552.2,1160.0 Z" fill="#c3c4c8" stroke="none" stroke-width="0"/>
<path d="M1543.0,1189.4 C1542.2,1188.2 1539.1,1185.1 1538.5,1182.0 C1537.9,1178.9 1538.6,1174.2 1539.5,1171.0 C1540.4,1167.8 1541.9,1164.9 1544.0,1162.5 C1546.1,1160.1 1548.5,1158.0 1552.0,1156.5 C1555.5,1155.0 1561.2,1153.4 1565.0,1153.3 C1568.8,1153.2 1572.2,1154.5 1575.0,1156.0 C1577.8,1157.5 1579.9,1159.8 1581.5,1162.5 C1583.1,1165.2 1584.1,1170.4 1584.6,1172.0" fill="none" stroke="#555" stroke-width="1.6" stroke-dasharray="1.5 2"/>
<polyline points="1559.3,1142.2 1519.5,1242.6" fill="none" stroke="#000" stroke-width="3.6" stroke-linejoin="miter" />
<line x1="1528.1" y1="1151.7" x2="1545.5" y2="1162.1" stroke="#999" stroke-width="1.3" />
<polygon points="1561.0,1188.0 1570.5,1197.5 1561.0,1207.0 1551.5,1197.5" fill="#6f9638" stroke="#111" stroke-width="2.2"/>
<polygon points="1561.0,1182.8 1570.5,1192.3 1561.0,1201.8 1551.5,1192.3" fill="#6f9638" stroke="#111" stroke-width="2.2"/>
<polygon points="1564.2,1170.7 1573.7,1180.2 1564.2,1189.7 1554.7,1180.2" fill="#6f9638" stroke="#111" stroke-width="2.2"/>
<polygon points="1569.0,1197.5 1578.5,1207.0 1569.0,1216.5 1559.5,1207.0" fill="#6f9638" stroke="#111" stroke-width="2.2"/>
<rect x="1575.2" y="1174.2" width="17.5" height="17.5" fill="#c6da98" stroke="#222" stroke-width="2.2"/>
<rect x="1540.3" y="1199.2" width="17.0" height="17.0" fill="#c6da98" stroke="#222" stroke-width="2.2"/>
<rect x="1548.0" y="1199.2" width="17.0" height="17.0" fill="#c6da98" stroke="#222" stroke-width="2.2"/>
<text transform="translate(1550.5,717.7) scale(1,1.04)" font-size="29" text-anchor="middle" fill="#1a1a1a" >Nb*2</text>
<text transform="translate(1227.7,1295.4) scale(1,1.04)" font-size="29" text-anchor="middle" fill="#1a1a1a" >Zr/4</text>
<text transform="translate(1867.2,1295.4) scale(1,1.04)" font-size="29" text-anchor="middle" fill="#1a1a1a" >Y</text>
<text transform="translate(1522.0,942.5) scale(1,1.04)" font-size="29" text-anchor="middle" fill="#1a1a1a" >AI</text>
<text transform="translate(1538.9,1030.5) scale(1,1.04)" font-size="29" text-anchor="middle" fill="#1a1a1a" >AII</text>
<text transform="translate(1579.2,1084.2) scale(1,1.04)" font-size="29" text-anchor="middle" fill="#1a1a1a" >B</text>
<text transform="translate(1500.8,1191.6) scale(1,1.04)" font-size="29" text-anchor="middle" fill="#1a1a1a" >C</text>
<text transform="translate(1636.3,1191.6) scale(1,1.04)" font-size="29" text-anchor="middle" fill="#1a1a1a" >D</text>
<text transform="translate(1520.8,1155.2) scale(1,1.04)" font-size="29" text-anchor="middle" fill="#1a1a1a" >1</text>
<text transform="translate(1616.5,787.0) scale(1,1.04)" font-size="29" text-anchor="start" fill="#1a1a1a" >AI: WPA</text>
<text transform="translate(1641.0,833.0) scale(1,1.04)" font-size="29" text-anchor="start" fill="#1a1a1a" >AII: WPA and WPT</text>
<text transform="translate(1672.0,880.0) scale(1,1.04)" font-size="29" text-anchor="start" fill="#1a1a1a" >B: E-MORB</text>
<text transform="translate(1691.0,916.5) scale(1,1.04)" font-size="29" text-anchor="start" fill="#1a1a1a" >C: WPT and VAB</text>
<text transform="translate(1716.0,968.2) scale(1,1.04)" font-size="29" text-anchor="start" fill="#1a1a1a" >D: N-MORB</text>
<text transform="translate(1757.0,1000.4) scale(1,1.04)" font-size="29" text-anchor="start" fill="#1a1a1a" >and VAB</text>
<rect x="1421.6" y="695.2" width="55.4" height="57.1" fill="#fff" stroke="#a8a8a8" stroke-width="1.9"/>
<text transform="translate(1427.3,734.0) scale(1,1.04)" font-size="34" text-anchor="start" fill="#1a1a1a" >(d)</text>
<polyline points="137.1,1526.1 210.4,1546.2 310.7,1568.2 411.0,1588.3 510.0,1602.4 610.5,1612.2 740.9,1623.9 845.3,1629.1 967.9,1633.1 967.9,1702.2 892.2,1706.1 832.2,1698.3 610.5,1699.6 545.2,1699.6 495.7,1694.4 431.1,1688.7 370.9,1684.6 310.7,1678.6 270.6,1670.6 214.4,1644.5 137.1,1644.5 137.1,1526.1" fill="none" stroke="#555" stroke-width="2.6" stroke-dasharray="10 6" stroke-linejoin="miter" />
<polyline points="138.3,1565.2 197.5,1576.3 256.7,1585.3 315.9,1594.3" fill="none" stroke="#78a040" stroke-width="2.6" stroke-linejoin="miter" />
<polyline points="434.3,1610.4 493.5,1634.5 552.7,1623.9 611.9,1622.1 671.1,1626.5 730.3,1626.5 789.5,1623.4 848.7,1619.5 907.9,1613.0 967.1,1600.4" fill="none" stroke="#78a040" stroke-width="2.6" stroke-linejoin="miter" />
<polyline points="138.3,1598.0 197.5,1608.0 256.7,1617.0 315.9,1625.0" fill="none" stroke="#78a040" stroke-width="2.6" stroke-linejoin="miter" />
<polyline points="434.3,1640.0 493.5,1660.0 552.7,1655.0 611.9,1655.0 671.1,1660.0 730.3,1664.0 789.5,1662.0 848.7,1660.0 907.9,1660.0 967.1,1658.0" fill="none" stroke="#78a040" stroke-width="2.6" stroke-linejoin="miter" />
<polyline points="138.3,1612.4 197.5,1614.4 256.7,1623.4 315.9,1633.5" fill="none" stroke="#78a040" stroke-width="2.6" stroke-linejoin="miter" />
<polyline points="434.3,1654.5 493.5,1664.0 552.7,1660.5 611.9,1661.8 671.1,1665.7 730.3,1672.2 789.5,1669.6 848.7,1667.0 907.9,1677.4 967.1,1678.7" fill="none" stroke="#78a040" stroke-width="2.6" stroke-linejoin="miter" />
<polyline points="138.3,1600.0 197.5,1612.0 256.7,1620.0 315.9,1644.5" fill="none" stroke="#78a040" stroke-width="2.6" stroke-linejoin="miter" />
<polyline points="434.3,1669.6 493.5,1675.6 552.7,1665.0 611.9,1664.0 671.1,1668.0 730.3,1670.0 789.5,1668.0 848.7,1666.0 907.9,1677.4 967.1,1678.7" fill="none" stroke="#78a040" stroke-width="2.6" stroke-linejoin="miter" />
<polyline points="138.3,1584.3 197.5,1594.3 256.7,1605.4 315.9,1610.4" fill="none" stroke="#151515" stroke-width="3.2" stroke-linejoin="miter" />
<polyline points="434.3,1633.5 493.5,1653.0 552.7,1644.0 611.9,1641.0 671.1,1651.0 730.3,1657.0 789.5,1655.7 848.7,1652.6 907.9,1654.0 967.1,1648.7" fill="none" stroke="#151515" stroke-width="3.2" stroke-linejoin="miter" />
<polyline points="138.3,1589.3 197.5,1602.4 256.7,1612.4 315.9,1621.4" fill="none" stroke="#151515" stroke-width="3.2" stroke-linejoin="miter" />
<polyline points="434.3,1640.0 493.5,1658.0 552.7,1650.6 611.9,1650.6 671.1,1655.7 730.3,1661.8 789.5,1660.8 848.7,1658.0 907.9,1660.8 967.1,1660.8" fill="none" stroke="#151515" stroke-width="3.2" stroke-linejoin="miter" />
<polyline points="138.3,1637.5 197.5,1638.5" fill="none" stroke="#151515" stroke-width="3.2" stroke-linejoin="miter" />
<polyline points="434.3,1682.6 493.5,1691.7" fill="none" stroke="#151515" stroke-width="3.2" stroke-linejoin="miter" />
<polyline points="907.9,1690.5 967.1,1691.8" fill="none" stroke="#151515" stroke-width="3.2" stroke-linejoin="miter" />
<polygon points="138.3,1556.4 147.1,1565.2 138.3,1574.0 129.5,1565.2" fill="#6f9638" stroke="#111" stroke-width="1.9"/>
<polygon points="197.5,1567.5 206.3,1576.3 197.5,1585.1 188.7,1576.3" fill="#6f9638" stroke="#111" stroke-width="1.9"/>
<polygon points="256.7,1576.5 265.5,1585.3 256.7,1594.1 247.9,1585.3" fill="#6f9638" stroke="#111" stroke-width="1.9"/>
<polygon points="315.9,1585.5 324.7,1594.3 315.9,1603.1 307.1,1594.3" fill="#6f9638" stroke="#111" stroke-width="1.9"/>
<polygon points="434.3,1601.6 443.1,1610.4 434.3,1619.2 425.5,1610.4" fill="#6f9638" stroke="#111" stroke-width="1.9"/>
<polygon points="493.5,1625.7 502.3,1634.5 493.5,1643.3 484.7,1634.5" fill="#6f9638" stroke="#111" stroke-width="1.9"/>
<polygon points="552.7,1615.1 561.5,1623.9 552.7,1632.7 543.9,1623.9" fill="#6f9638" stroke="#111" stroke-width="1.9"/>
<polygon points="611.9,1613.3 620.7,1622.1 611.9,1630.9 603.1,1622.1" fill="#6f9638" stroke="#111" stroke-width="1.9"/>
<polygon points="671.1,1617.7 679.9,1626.5 671.1,1635.3 662.3,1626.5" fill="#6f9638" stroke="#111" stroke-width="1.9"/>
<polygon points="730.3,1617.7 739.1,1626.5 730.3,1635.3 721.5,1626.5" fill="#6f9638" stroke="#111" stroke-width="1.9"/>
<polygon points="789.5,1614.6 798.3,1623.4 789.5,1632.2 780.7,1623.4" fill="#6f9638" stroke="#111" stroke-width="1.9"/>
<polygon points="848.7,1610.7 857.5,1619.5 848.7,1628.3 839.9,1619.5" fill="#6f9638" stroke="#111" stroke-width="1.9"/>
<polygon points="907.9,1604.2 916.7,1613.0 907.9,1621.8 899.1,1613.0" fill="#6f9638" stroke="#111" stroke-width="1.9"/>
<polygon points="967.1,1591.6 975.9,1600.4 967.1,1609.2 958.3,1600.4" fill="#6f9638" stroke="#111" stroke-width="1.9"/>
<polygon points="138.3,1589.2 147.1,1598.0 138.3,1606.8 129.5,1598.0" fill="#6f9638" stroke="#111" stroke-width="1.9"/>
<polygon points="197.5,1599.2 206.3,1608.0 197.5,1616.8 188.7,1608.0" fill="#6f9638" stroke="#111" stroke-width="1.9"/>
<polygon points="256.7,1608.2 265.5,1617.0 256.7,1625.8 247.9,1617.0" fill="#6f9638" stroke="#111" stroke-width="1.9"/>
<polygon points="315.9,1616.2 324.7,1625.0 315.9,1633.8 307.1,1625.0" fill="#6f9638" stroke="#111" stroke-width="1.9"/>
<polygon points="434.3,1631.2 443.1,1640.0 434.3,1648.8 425.5,1640.0" fill="#6f9638" stroke="#111" stroke-width="1.9"/>
<polygon points="493.5,1651.2 502.3,1660.0 493.5,1668.8 484.7,1660.0" fill="#6f9638" stroke="#111" stroke-width="1.9"/>
<polygon points="552.7,1646.2 561.5,1655.0 552.7,1663.8 543.9,1655.0" fill="#6f9638" stroke="#111" stroke-width="1.9"/>
<polygon points="611.9,1646.2 620.7,1655.0 611.9,1663.8 603.1,1655.0" fill="#6f9638" stroke="#111" stroke-width="1.9"/>
<polygon points="671.1,1651.2 679.9,1660.0 671.1,1668.8 662.3,1660.0" fill="#6f9638" stroke="#111" stroke-width="1.9"/>
<polygon points="730.3,1655.2 739.1,1664.0 730.3,1672.8 721.5,1664.0" fill="#6f9638" stroke="#111" stroke-width="1.9"/>
<polygon points="789.5,1653.2 798.3,1662.0 789.5,1670.8 780.7,1662.0" fill="#6f9638" stroke="#111" stroke-width="1.9"/>
<polygon points="848.7,1651.2 857.5,1660.0 848.7,1668.8 839.9,1660.0" fill="#6f9638" stroke="#111" stroke-width="1.9"/>
<polygon points="907.9,1651.2 916.7,1660.0 907.9,1668.8 899.1,1660.0" fill="#6f9638" stroke="#111" stroke-width="1.9"/>
<polygon points="967.1,1649.2 975.9,1658.0 967.1,1666.8 958.3,1658.0" fill="#6f9638" stroke="#111" stroke-width="1.9"/>
<polygon points="138.3,1603.6 147.1,1612.4 138.3,1621.2 129.5,1612.4" fill="#6f9638" stroke="#111" stroke-width="1.9"/>
<polygon points="197.5,1605.6 206.3,1614.4 197.5,1623.2 188.7,1614.4" fill="#6f9638" stroke="#111" stroke-width="1.9"/>
<polygon points="256.7,1614.6 265.5,1623.4 256.7,1632.2 247.9,1623.4" fill="#6f9638" stroke="#111" stroke-width="1.9"/>
<polygon points="315.9,1624.7 324.7,1633.5 315.9,1642.3 307.1,1633.5" fill="#6f9638" stroke="#111" stroke-width="1.9"/>
<polygon points="434.3,1645.7 443.1,1654.5 434.3,1663.3 425.5,1654.5" fill="#6f9638" stroke="#111" stroke-width="1.9"/>
<polygon points="493.5,1655.2 502.3,1664.0 493.5,1672.8 484.7,1664.0" fill="#6f9638" stroke="#111" stroke-width="1.9"/>
<polygon points="552.7,1651.7 561.5,1660.5 552.7,1669.3 543.9,1660.5" fill="#6f9638" stroke="#111" stroke-width="1.9"/>
<polygon points="611.9,1653.0 620.7,1661.8 611.9,1670.6 603.1,1661.8" fill="#6f9638" stroke="#111" stroke-width="1.9"/>
<polygon points="671.1,1656.9 679.9,1665.7 671.1,1674.5 662.3,1665.7" fill="#6f9638" stroke="#111" stroke-width="1.9"/>
<polygon points="730.3,1663.4 739.1,1672.2 730.3,1681.0 721.5,1672.2" fill="#6f9638" stroke="#111" stroke-width="1.9"/>
<polygon points="789.5,1660.8 798.3,1669.6 789.5,1678.4 780.7,1669.6" fill="#6f9638" stroke="#111" stroke-width="1.9"/>
<polygon points="848.7,1658.2 857.5,1667.0 848.7,1675.8 839.9,1667.0" fill="#6f9638" stroke="#111" stroke-width="1.9"/>
<polygon points="907.9,1668.6 916.7,1677.4 907.9,1686.2 899.1,1677.4" fill="#6f9638" stroke="#111" stroke-width="1.9"/>
<polygon points="967.1,1669.9 975.9,1678.7 967.1,1687.5 958.3,1678.7" fill="#6f9638" stroke="#111" stroke-width="1.9"/>
<polygon points="138.3,1591.2 147.1,1600.0 138.3,1608.8 129.5,1600.0" fill="#6f9638" stroke="#111" stroke-width="1.9"/>
<polygon points="197.5,1603.2 206.3,1612.0 197.5,1620.8 188.7,1612.0" fill="#6f9638" stroke="#111" stroke-width="1.9"/>
<polygon points="256.7,1611.2 265.5,1620.0 256.7,1628.8 247.9,1620.0" fill="#6f9638" stroke="#111" stroke-width="1.9"/>
<polygon points="315.9,1635.7 324.7,1644.5 315.9,1653.3 307.1,1644.5" fill="#6f9638" stroke="#111" stroke-width="1.9"/>
<polygon points="434.3,1660.8 443.1,1669.6 434.3,1678.4 425.5,1669.6" fill="#6f9638" stroke="#111" stroke-width="1.9"/>
<polygon points="493.5,1666.8 502.3,1675.6 493.5,1684.4 484.7,1675.6" fill="#6f9638" stroke="#111" stroke-width="1.9"/>
<polygon points="552.7,1656.2 561.5,1665.0 552.7,1673.8 543.9,1665.0" fill="#6f9638" stroke="#111" stroke-width="1.9"/>
<polygon points="611.9,1655.2 620.7,1664.0 611.9,1672.8 603.1,1664.0" fill="#6f9638" stroke="#111" stroke-width="1.9"/>
<polygon points="671.1,1659.2 679.9,1668.0 671.1,1676.8 662.3,1668.0" fill="#6f9638" stroke="#111" stroke-width="1.9"/>
<polygon points="730.3,1661.2 739.1,1670.0 730.3,1678.8 721.5,1670.0" fill="#6f9638" stroke="#111" stroke-width="1.9"/>
<polygon points="789.5,1659.2 798.3,1668.0 789.5,1676.8 780.7,1668.0" fill="#6f9638" stroke="#111" stroke-width="1.9"/>
<polygon points="848.7,1657.2 857.5,1666.0 848.7,1674.8 839.9,1666.0" fill="#6f9638" stroke="#111" stroke-width="1.9"/>
<polygon points="907.9,1668.6 916.7,1677.4 907.9,1686.2 899.1,1677.4" fill="#6f9638" stroke="#111" stroke-width="1.9"/>
<polygon points="967.1,1669.9 975.9,1678.7 967.1,1687.5 958.3,1678.7" fill="#6f9638" stroke="#111" stroke-width="1.9"/>
<rect x="132.2" y="1578.2" width="12.2" height="12.2" fill="#c6da98" stroke="#222" stroke-width="1.9"/>
<rect x="191.4" y="1588.2" width="12.2" height="12.2" fill="#c6da98" stroke="#222" stroke-width="1.9"/>
<rect x="250.6" y="1599.3" width="12.2" height="12.2" fill="#c6da98" stroke="#222" stroke-width="1.9"/>
<rect x="309.8" y="1604.3" width="12.2" height="12.2" fill="#c6da98" stroke="#222" stroke-width="1.9"/>
<rect x="428.2" y="1627.4" width="12.2" height="12.2" fill="#c6da98" stroke="#222" stroke-width="1.9"/>
<rect x="487.4" y="1646.9" width="12.2" height="12.2" fill="#c6da98" stroke="#222" stroke-width="1.9"/>
<rect x="546.6" y="1637.9" width="12.2" height="12.2" fill="#c6da98" stroke="#222" stroke-width="1.9"/>
<rect x="605.8" y="1634.9" width="12.2" height="12.2" fill="#c6da98" stroke="#222" stroke-width="1.9"/>
<rect x="665.0" y="1644.9" width="12.2" height="12.2" fill="#c6da98" stroke="#222" stroke-width="1.9"/>
<rect x="724.2" y="1650.9" width="12.2" height="12.2" fill="#c6da98" stroke="#222" stroke-width="1.9"/>
<rect x="783.4" y="1649.6" width="12.2" height="12.2" fill="#c6da98" stroke="#222" stroke-width="1.9"/>
<rect x="842.6" y="1646.5" width="12.2" height="12.2" fill="#c6da98" stroke="#222" stroke-width="1.9"/>
<rect x="901.8" y="1647.9" width="12.2" height="12.2" fill="#c6da98" stroke="#222" stroke-width="1.9"/>
<rect x="961.0" y="1642.6" width="12.2" height="12.2" fill="#c6da98" stroke="#222" stroke-width="1.9"/>
<rect x="132.2" y="1583.2" width="12.2" height="12.2" fill="#c6da98" stroke="#222" stroke-width="1.9"/>
<rect x="191.4" y="1596.3" width="12.2" height="12.2" fill="#c6da98" stroke="#222" stroke-width="1.9"/>
<rect x="250.6" y="1606.3" width="12.2" height="12.2" fill="#c6da98" stroke="#222" stroke-width="1.9"/>
<rect x="309.8" y="1615.3" width="12.2" height="12.2" fill="#c6da98" stroke="#222" stroke-width="1.9"/>
<rect x="428.2" y="1633.9" width="12.2" height="12.2" fill="#c6da98" stroke="#222" stroke-width="1.9"/>
<rect x="487.4" y="1651.9" width="12.2" height="12.2" fill="#c6da98" stroke="#222" stroke-width="1.9"/>
<rect x="546.6" y="1644.5" width="12.2" height="12.2" fill="#c6da98" stroke="#222" stroke-width="1.9"/>
<rect x="605.8" y="1644.5" width="12.2" height="12.2" fill="#c6da98" stroke="#222" stroke-width="1.9"/>
<rect x="665.0" y="1649.6" width="12.2" height="12.2" fill="#c6da98" stroke="#222" stroke-width="1.9"/>
<rect x="724.2" y="1655.7" width="12.2" height="12.2" fill="#c6da98" stroke="#222" stroke-width="1.9"/>
<rect x="783.4" y="1654.7" width="12.2" height="12.2" fill="#c6da98" stroke="#222" stroke-width="1.9"/>
<rect x="842.6" y="1651.9" width="12.2" height="12.2" fill="#c6da98" stroke="#222" stroke-width="1.9"/>
<rect x="901.8" y="1654.7" width="12.2" height="12.2" fill="#c6da98" stroke="#222" stroke-width="1.9"/>
<rect x="961.0" y="1654.7" width="12.2" height="12.2" fill="#c6da98" stroke="#222" stroke-width="1.9"/>
<rect x="132.2" y="1631.4" width="12.2" height="12.2" fill="#c6da98" stroke="#222" stroke-width="1.9"/>
<rect x="191.4" y="1632.4" width="12.2" height="12.2" fill="#c6da98" stroke="#222" stroke-width="1.9"/>
<rect x="309.8" y="1651.4" width="12.2" height="12.2" fill="#c6da98" stroke="#222" stroke-width="1.9"/>
<rect x="428.2" y="1676.5" width="12.2" height="12.2" fill="#c6da98" stroke="#222" stroke-width="1.9"/>
<rect x="487.4" y="1685.6" width="12.2" height="12.2" fill="#c6da98" stroke="#222" stroke-width="1.9"/>
<rect x="605.8" y="1688.3" width="12.2" height="12.2" fill="#c6da98" stroke="#222" stroke-width="1.9"/>
<rect x="901.8" y="1684.4" width="12.2" height="12.2" fill="#c6da98" stroke="#222" stroke-width="1.9"/>
<rect x="961.0" y="1685.7" width="12.2" height="12.2" fill="#c6da98" stroke="#222" stroke-width="1.9"/>
<rect x="109.0" y="1319.5" width="888.0" height="535.5" fill="none" stroke="#1e1e1e" stroke-width="3"/>
<line x1="109.0" y1="1801.3" x2="114.0" y2="1801.3" stroke="#1e1e1e" stroke-width="2.6" />
<line x1="109.0" y1="1769.8" x2="114.0" y2="1769.8" stroke="#1e1e1e" stroke-width="2.6" />
<line x1="109.0" y1="1747.5" x2="114.0" y2="1747.5" stroke="#1e1e1e" stroke-width="2.6" />
<line x1="109.0" y1="1730.2" x2="114.0" y2="1730.2" stroke="#1e1e1e" stroke-width="2.6" />
<line x1="109.0" y1="1716.1" x2="114.0" y2="1716.1" stroke="#1e1e1e" stroke-width="2.6" />
<line x1="109.0" y1="1704.1" x2="114.0" y2="1704.1" stroke="#1e1e1e" stroke-width="2.6" />
<line x1="109.0" y1="1693.8" x2="114.0" y2="1693.8" stroke="#1e1e1e" stroke-width="2.6" />
<line x1="109.0" y1="1684.7" x2="114.0" y2="1684.7" stroke="#1e1e1e" stroke-width="2.6" />
<line x1="109.0" y1="1676.5" x2="116.0" y2="1676.5" stroke="#1e1e1e" stroke-width="2.6" />
<line x1="109.0" y1="1622.8" x2="114.0" y2="1622.8" stroke="#1e1e1e" stroke-width="2.6" />
<line x1="109.0" y1="1591.3" x2="114.0" y2="1591.3" stroke="#1e1e1e" stroke-width="2.6" />
<line x1="109.0" y1="1569.0" x2="114.0" y2="1569.0" stroke="#1e1e1e" stroke-width="2.6" />
<line x1="109.0" y1="1551.7" x2="114.0" y2="1551.7" stroke="#1e1e1e" stroke-width="2.6" />
<line x1="109.0" y1="1537.6" x2="114.0" y2="1537.6" stroke="#1e1e1e" stroke-width="2.6" />
<line x1="109.0" y1="1525.6" x2="114.0" y2="1525.6" stroke="#1e1e1e" stroke-width="2.6" />
<line x1="109.0" y1="1515.3" x2="114.0" y2="1515.3" stroke="#1e1e1e" stroke-width="2.6" />
<line x1="109.0" y1="1506.2" x2="114.0" y2="1506.2" stroke="#1e1e1e" stroke-width="2.6" />
<line x1="109.0" y1="1498.0" x2="116.0" y2="1498.0" stroke="#1e1e1e" stroke-width="2.6" />
<line x1="109.0" y1="1444.3" x2="114.0" y2="1444.3" stroke="#1e1e1e" stroke-width="2.6" />
<line x1="109.0" y1="1412.8" x2="114.0" y2="1412.8" stroke="#1e1e1e" stroke-width="2.6" />
<line x1="109.0" y1="1390.5" x2="114.0" y2="1390.5" stroke="#1e1e1e" stroke-width="2.6" />
<line x1="109.0" y1="1373.2" x2="114.0" y2="1373.2" stroke="#1e1e1e" stroke-width="2.6" />
<line x1="109.0" y1="1359.1" x2="114.0" y2="1359.1" stroke="#1e1e1e" stroke-width="2.6" />
<line x1="109.0" y1="1347.1" x2="114.0" y2="1347.1" stroke="#1e1e1e" stroke-width="2.6" />
<line x1="109.0" y1="1336.8" x2="114.0" y2="1336.8" stroke="#1e1e1e" stroke-width="2.6" />
<line x1="109.0" y1="1327.7" x2="114.0" y2="1327.7" stroke="#1e1e1e" stroke-width="2.6" />
<line x1="138.3" y1="1855.0" x2="138.3" y2="1849.5" stroke="#1e1e1e" stroke-width="2.4" />
<line x1="167.9" y1="1855.0" x2="167.9" y2="1849.5" stroke="#1e1e1e" stroke-width="2.4" />
<line x1="197.5" y1="1855.0" x2="197.5" y2="1849.5" stroke="#1e1e1e" stroke-width="2.4" />
<line x1="227.1" y1="1855.0" x2="227.1" y2="1849.5" stroke="#1e1e1e" stroke-width="2.4" />
<line x1="256.7" y1="1855.0" x2="256.7" y2="1849.5" stroke="#1e1e1e" stroke-width="2.4" />
<line x1="286.3" y1="1855.0" x2="286.3" y2="1849.5" stroke="#1e1e1e" stroke-width="2.4" />
<line x1="315.9" y1="1855.0" x2="315.9" y2="1849.5" stroke="#1e1e1e" stroke-width="2.4" />
<line x1="345.5" y1="1855.0" x2="345.5" y2="1849.5" stroke="#1e1e1e" stroke-width="2.4" />
<line x1="375.1" y1="1855.0" x2="375.1" y2="1849.5" stroke="#1e1e1e" stroke-width="2.4" />
<line x1="404.7" y1="1855.0" x2="404.7" y2="1849.5" stroke="#1e1e1e" stroke-width="2.4" />
<line x1="434.3" y1="1855.0" x2="434.3" y2="1849.5" stroke="#1e1e1e" stroke-width="2.4" />
<line x1="463.9" y1="1855.0" x2="463.9" y2="1849.5" stroke="#1e1e1e" stroke-width="2.4" />
<line x1="493.5" y1="1855.0" x2="493.5" y2="1849.5" stroke="#1e1e1e" stroke-width="2.4" />
<line x1="523.1" y1="1855.0" x2="523.1" y2="1849.5" stroke="#1e1e1e" stroke-width="2.4" />
<line x1="552.7" y1="1855.0" x2="552.7" y2="1849.5" stroke="#1e1e1e" stroke-width="2.4" />
<line x1="582.3" y1="1855.0" x2="582.3" y2="1849.5" stroke="#1e1e1e" stroke-width="2.4" />
<line x1="611.9" y1="1855.0" x2="611.9" y2="1849.5" stroke="#1e1e1e" stroke-width="2.4" />
<line x1="641.5" y1="1855.0" x2="641.5" y2="1849.5" stroke="#1e1e1e" stroke-width="2.4" />
<line x1="671.1" y1="1855.0" x2="671.1" y2="1849.5" stroke="#1e1e1e" stroke-width="2.4" />
<line x1="700.7" y1="1855.0" x2="700.7" y2="1849.5" stroke="#1e1e1e" stroke-width="2.4" />
<line x1="730.3" y1="1855.0" x2="730.3" y2="1849.5" stroke="#1e1e1e" stroke-width="2.4" />
<line x1="759.9" y1="1855.0" x2="759.9" y2="1849.5" stroke="#1e1e1e" stroke-width="2.4" />
<line x1="789.5" y1="1855.0" x2="789.5" y2="1849.5" stroke="#1e1e1e" stroke-width="2.4" />
<line x1="819.1" y1="1855.0" x2="819.1" y2="1849.5" stroke="#1e1e1e" stroke-width="2.4" />
<line x1="848.7" y1="1855.0" x2="848.7" y2="1849.5" stroke="#1e1e1e" stroke-width="2.4" />
<line x1="878.3" y1="1855.0" x2="878.3" y2="1849.5" stroke="#1e1e1e" stroke-width="2.4" />
<line x1="907.9" y1="1855.0" x2="907.9" y2="1849.5" stroke="#1e1e1e" stroke-width="2.4" />
<line x1="937.5" y1="1855.0" x2="937.5" y2="1849.5" stroke="#1e1e1e" stroke-width="2.4" />
<line x1="967.1" y1="1855.0" x2="967.1" y2="1849.5" stroke="#1e1e1e" stroke-width="2.4" />
<text transform="translate(103.0,1505.4) scale(1,1.04)" font-size="30" text-anchor="end" fill="#1a1a1a" >100</text>
<text transform="translate(103.0,1683.4) scale(1,1.04)" font-size="30" text-anchor="end" fill="#1a1a1a" >10</text>
<text transform="translate(103.0,1862.1) scale(1,1.04)" font-size="30" text-anchor="end" fill="#1a1a1a" >1</text>
<text transform="translate(139.3,1883.0) scale(1,1.04)" font-size="24" text-anchor="middle" fill="#1a1a1a" >La</text>
<text transform="translate(198.5,1883.0) scale(1,1.04)" font-size="24" text-anchor="middle" fill="#1a1a1a" >Ce</text>
<text transform="translate(257.7,1883.0) scale(1,1.04)" font-size="24" text-anchor="middle" fill="#1a1a1a" >Pr</text>
<text transform="translate(316.9,1883.0) scale(1,1.04)" font-size="24" text-anchor="middle" fill="#1a1a1a" >Nd</text>
<text transform="translate(376.1,1883.0) scale(1,1.04)" font-size="24" text-anchor="middle" fill="#1a1a1a" >Pm</text>
<text transform="translate(435.3,1883.0) scale(1,1.04)" font-size="24" text-anchor="middle" fill="#1a1a1a" >Sm</text>
<text transform="translate(494.5,1883.0) scale(1,1.04)" font-size="24" text-anchor="middle" fill="#1a1a1a" >Eu</text>
<text transform="translate(553.7,1883.0) scale(1,1.04)" font-size="24" text-anchor="middle" fill="#1a1a1a" >Gd</text>
<text transform="translate(612.9,1883.0) scale(1,1.04)" font-size="24" text-anchor="middle" fill="#1a1a1a" >Tb</text>
<text transform="translate(672.1,1883.0) scale(1,1.04)" font-size="24" text-anchor="middle" fill="#1a1a1a" >Dy</text>
<text transform="translate(731.3,1883.0) scale(1,1.04)" font-size="24" text-anchor="middle" fill="#1a1a1a" >Ho</text>
<text transform="translate(790.5,1883.0) scale(1,1.04)" font-size="24" text-anchor="middle" fill="#1a1a1a" >Er</text>
<text transform="translate(849.7,1883.0) scale(1,1.04)" font-size="24" text-anchor="middle" fill="#1a1a1a" >Tm</text>
<text transform="translate(908.9,1883.0) scale(1,1.04)" font-size="24" text-anchor="middle" fill="#1a1a1a" >Yb</text>
<text transform="translate(968.1,1883.0) scale(1,1.04)" font-size="24" text-anchor="middle" fill="#1a1a1a" >Lu</text>
<text transform="translate(159.0,1522.8) scale(1,1.04)" font-size="29" text-anchor="middle" fill="#1a1a1a" >1</text>
<text transform="translate(47.5,1576.4) rotate(-90) scale(1,1.04)" font-size="33" text-anchor="middle" fill="#1a1a1a" >Rock/Chondrite</text>
<rect x="110.5" y="1321.0" width="54.1" height="56.3" fill="#fff" stroke="#c4c4c4" stroke-width="2.4"/>
<text transform="translate(115.5,1357.0) scale(1,1.04)" font-size="34" text-anchor="start" fill="#1a1a1a" >(e)</text>
<polyline points="1128.4,1409.0 1160.2,1464.0 1192.0,1558.0 1223.7,1548.0 1255.5,1532.0 1287.3,1684.0 1319.1,1650.0 1350.8,1560.0 1382.6,1620.0 1414.4,1640.0 1414.4,1702.0 1382.6,1690.0 1350.8,1668.0 1319.1,1743.0 1287.3,1738.0 1255.5,1636.0 1223.7,1607.0 1192.0,1616.0 1160.2,1618.0 1128.4,1510.0 1128.4,1409.0" fill="none" stroke="#555" stroke-width="1.9" stroke-dasharray="9 5" stroke-linejoin="miter" />
<polyline points="1477.9,1656.0 1509.7,1690.0 1541.5,1670.0 1573.2,1703.0 1605.0,1712.0 1636.8,1695.0 1668.6,1692.0 1700.3,1704.0 1732.1,1730.0 1763.9,1711.0 1795.7,1714.0 1827.5,1719.0 1859.2,1725.0 1891.0,1724.0 1922.8,1725.0 1954.6,1727.0 1986.3,1730.0 2018.1,1727.0 2018.1,1780.0 1986.3,1782.0 1954.6,1778.0 1922.8,1778.0 1891.0,1779.0 1859.2,1779.0 1827.5,1778.0 1795.7,1777.0 1763.9,1777.0 1732.1,1788.0 1700.3,1775.0 1668.6,1769.0 1636.8,1769.0 1605.0,1767.0 1573.2,1778.0 1541.5,1751.0 1509.7,1726.0 1477.9,1742.0 1477.9,1656.0" fill="none" stroke="#555" stroke-width="1.9" stroke-dasharray="9 5" stroke-linejoin="miter" />
<line x1="1113.2" y1="1727.5" x2="2032.2" y2="1727.5" stroke="#111" stroke-width="3" />
<polyline points="1128.4,1482.0 1160.2,1562.0 1192.0,1581.0 1223.7,1582.0 1255.5,1579.0 1287.3,1741.0 1319.1,1642.0 1350.8,1609.0 1382.6,1669.0 1414.4,1685.0" fill="none" stroke="#151515" stroke-width="1.9" stroke-linejoin="miter" />
<polyline points="1477.9,1701.0 1509.7,1699.0 1541.5,1713.0 1573.2,1748.0 1605.0,1734.0 1636.8,1706.0 1668.6,1729.0 1700.3,1746.0 1732.1,1757.0 1763.9,1740.0 1795.7,1741.0 1827.5,1745.0 1859.2,1751.0 1891.0,1750.0 1922.8,1749.0 1954.6,1749.0 1986.3,1751.0 2018.1,1749.0" fill="none" stroke="#151515" stroke-width="1.9" stroke-linejoin="miter" />
<polyline points="1128.4,1492.0 1160.2,1567.0 1192.0,1587.0 1223.7,1590.0 1255.5,1593.0 1287.3,1735.0 1319.1,1652.0 1350.8,1656.0 1382.6,1683.0 1414.4,1690.0" fill="none" stroke="#151515" stroke-width="1.9" stroke-linejoin="miter" />
<polyline points="1477.9,1705.0 1509.7,1705.0 1541.5,1727.0 1573.2,1774.0 1605.0,1744.0 1636.8,1737.0 1668.6,1752.0 1700.3,1757.0 1732.1,1771.0 1763.9,1745.0 1795.7,1745.0 1827.5,1750.0 1859.2,1766.0 1891.0,1752.0 1922.8,1752.0 1954.6,1752.0 1986.3,1760.0 2018.1,1760.0" fill="none" stroke="#151515" stroke-width="1.9" stroke-linejoin="miter" />
<polyline points="1128.4,1541.0 1160.2,1530.0 1192.0,1560.0 1223.7,1622.0 1255.5,1685.0 1287.3,1745.0 1319.1,1689.0 1350.8,1662.0 1382.6,1702.0 1414.4,1711.0" fill="none" stroke="#151515" stroke-width="1.9" stroke-linejoin="miter" />
<polyline points="1477.9,1705.0 1509.7,1710.0 1541.5,1738.0 1573.2,1787.0 1605.0,1759.0 1636.8,1753.0 1668.6,1763.0 1700.3,1769.0 1732.1,1785.0 1763.9,1750.0 1795.7,1771.0 1827.5,1752.0 1859.2,1766.0 1891.0,1755.0 1922.8,1755.0 1954.6,1755.0 1986.3,1770.0 2018.1,1770.0" fill="none" stroke="#151515" stroke-width="1.9" stroke-linejoin="miter" />
<polyline points="1128.4,1472.0 1160.2,1528.0 1192.0,1553.0 1223.7,1544.0 1255.5,1522.0 1287.3,1702.0 1319.1,1627.0 1350.8,1617.0 1382.6,1650.0 1414.4,1667.0" fill="none" stroke="#78a040" stroke-width="1.8" stroke-linejoin="miter" />
<polyline points="1477.9,1681.0 1509.7,1698.0 1541.5,1694.0 1573.2,1748.0 1605.0,1713.0 1636.8,1678.0 1668.6,1710.0 1700.3,1727.0 1732.1,1739.0 1763.9,1722.0 1795.7,1720.0 1827.5,1723.0 1859.2,1729.0 1891.0,1723.0 1922.8,1721.0 1954.6,1719.0 1986.3,1714.0 2018.1,1705.0" fill="none" stroke="#78a040" stroke-width="1.8" stroke-linejoin="miter" />
<polyline points="1128.4,1504.0 1160.2,1549.0 1192.0,1567.0 1223.7,1564.0 1255.5,1567.0 1287.3,1720.0 1319.1,1668.0 1350.8,1632.0 1382.6,1669.0 1414.4,1685.0" fill="none" stroke="#78a040" stroke-width="1.8" stroke-linejoin="miter" />
<polyline points="1477.9,1709.0 1509.7,1709.0 1541.5,1713.0 1573.2,1760.0 1605.0,1734.0 1636.8,1691.0 1668.6,1741.0 1700.3,1746.0 1732.1,1757.0 1763.9,1741.0 1795.7,1741.0 1827.5,1745.0 1859.2,1751.0 1891.0,1750.0 1922.8,1749.0 1954.6,1749.0 1986.3,1751.0 2018.1,1749.0" fill="none" stroke="#78a040" stroke-width="1.8" stroke-linejoin="miter" />
<polyline points="1128.4,1480.0 1160.2,1535.0 1192.0,1567.0 1223.7,1572.0 1255.5,1593.0 1287.3,1750.0 1319.1,1696.0 1350.8,1620.0 1382.6,1683.0 1414.4,1690.0" fill="none" stroke="#78a040" stroke-width="1.8" stroke-linejoin="miter" />
<polyline points="1477.9,1701.0 1509.7,1715.0 1541.5,1727.0 1573.2,1774.0 1605.0,1744.0 1636.8,1728.0 1668.6,1752.0 1700.3,1757.0 1732.1,1771.0 1763.9,1751.0 1795.7,1751.0 1827.5,1756.0 1859.2,1759.0 1891.0,1759.0 1922.8,1759.0 1954.6,1756.0 1986.3,1760.0 2018.1,1759.0" fill="none" stroke="#78a040" stroke-width="1.8" stroke-linejoin="miter" />
<polygon points="1128.4,1463.5 1136.9,1472.0 1128.4,1480.5 1119.9,1472.0" fill="#6f9638" stroke="#111" stroke-width="1.8"/>
<polygon points="1160.2,1519.5 1168.7,1528.0 1160.2,1536.5 1151.7,1528.0" fill="#6f9638" stroke="#111" stroke-width="1.8"/>
<polygon points="1192.0,1544.5 1200.5,1553.0 1192.0,1561.5 1183.5,1553.0" fill="#6f9638" stroke="#111" stroke-width="1.8"/>
<polygon points="1223.7,1535.5 1232.2,1544.0 1223.7,1552.5 1215.2,1544.0" fill="#6f9638" stroke="#111" stroke-width="1.8"/>
<polygon points="1255.5,1513.5 1264.0,1522.0 1255.5,1530.5 1247.0,1522.0" fill="#6f9638" stroke="#111" stroke-width="1.8"/>
<polygon points="1287.3,1693.5 1295.8,1702.0 1287.3,1710.5 1278.8,1702.0" fill="#6f9638" stroke="#111" stroke-width="1.8"/>
<polygon points="1319.1,1618.5 1327.6,1627.0 1319.1,1635.5 1310.6,1627.0" fill="#6f9638" stroke="#111" stroke-width="1.8"/>
<polygon points="1350.8,1608.5 1359.3,1617.0 1350.8,1625.5 1342.3,1617.0" fill="#6f9638" stroke="#111" stroke-width="1.8"/>
<polygon points="1382.6,1641.5 1391.1,1650.0 1382.6,1658.5 1374.1,1650.0" fill="#6f9638" stroke="#111" stroke-width="1.8"/>
<polygon points="1414.4,1658.5 1422.9,1667.0 1414.4,1675.5 1405.9,1667.0" fill="#6f9638" stroke="#111" stroke-width="1.8"/>
<polygon points="1477.9,1672.5 1486.4,1681.0 1477.9,1689.5 1469.4,1681.0" fill="#6f9638" stroke="#111" stroke-width="1.8"/>
<polygon points="1509.7,1689.5 1518.2,1698.0 1509.7,1706.5 1501.2,1698.0" fill="#6f9638" stroke="#111" stroke-width="1.8"/>
<polygon points="1541.5,1685.5 1550.0,1694.0 1541.5,1702.5 1533.0,1694.0" fill="#6f9638" stroke="#111" stroke-width="1.8"/>
<polygon points="1573.2,1739.5 1581.8,1748.0 1573.2,1756.5 1564.8,1748.0" fill="#6f9638" stroke="#111" stroke-width="1.8"/>
<polygon points="1605.0,1704.5 1613.5,1713.0 1605.0,1721.5 1596.5,1713.0" fill="#6f9638" stroke="#111" stroke-width="1.8"/>
<polygon points="1636.8,1669.5 1645.3,1678.0 1636.8,1686.5 1628.3,1678.0" fill="#6f9638" stroke="#111" stroke-width="1.8"/>
<polygon points="1668.6,1701.5 1677.1,1710.0 1668.6,1718.5 1660.1,1710.0" fill="#6f9638" stroke="#111" stroke-width="1.8"/>
<polygon points="1700.3,1718.5 1708.8,1727.0 1700.3,1735.5 1691.8,1727.0" fill="#6f9638" stroke="#111" stroke-width="1.8"/>
<polygon points="1732.1,1730.5 1740.6,1739.0 1732.1,1747.5 1723.6,1739.0" fill="#6f9638" stroke="#111" stroke-width="1.8"/>
<polygon points="1763.9,1713.5 1772.4,1722.0 1763.9,1730.5 1755.4,1722.0" fill="#6f9638" stroke="#111" stroke-width="1.8"/>
<polygon points="1795.7,1711.5 1804.2,1720.0 1795.7,1728.5 1787.2,1720.0" fill="#6f9638" stroke="#111" stroke-width="1.8"/>
<polygon points="1827.5,1714.5 1836.0,1723.0 1827.5,1731.5 1819.0,1723.0" fill="#6f9638" stroke="#111" stroke-width="1.8"/>
<polygon points="1859.2,1720.5 1867.7,1729.0 1859.2,1737.5 1850.7,1729.0" fill="#6f9638" stroke="#111" stroke-width="1.8"/>
<polygon points="1891.0,1714.5 1899.5,1723.0 1891.0,1731.5 1882.5,1723.0" fill="#6f9638" stroke="#111" stroke-width="1.8"/>
<polygon points="1922.8,1712.5 1931.3,1721.0 1922.8,1729.5 1914.3,1721.0" fill="#6f9638" stroke="#111" stroke-width="1.8"/>
<polygon points="1954.6,1710.5 1963.1,1719.0 1954.6,1727.5 1946.1,1719.0" fill="#6f9638" stroke="#111" stroke-width="1.8"/>
<polygon points="1986.3,1705.5 1994.8,1714.0 1986.3,1722.5 1977.8,1714.0" fill="#6f9638" stroke="#111" stroke-width="1.8"/>
<polygon points="2018.1,1696.5 2026.6,1705.0 2018.1,1713.5 2009.6,1705.0" fill="#6f9638" stroke="#111" stroke-width="1.8"/>
<polygon points="1128.4,1495.5 1136.9,1504.0 1128.4,1512.5 1119.9,1504.0" fill="#6f9638" stroke="#111" stroke-width="1.8"/>
<polygon points="1160.2,1540.5 1168.7,1549.0 1160.2,1557.5 1151.7,1549.0" fill="#6f9638" stroke="#111" stroke-width="1.8"/>
<polygon points="1192.0,1558.5 1200.5,1567.0 1192.0,1575.5 1183.5,1567.0" fill="#6f9638" stroke="#111" stroke-width="1.8"/>
<polygon points="1223.7,1555.5 1232.2,1564.0 1223.7,1572.5 1215.2,1564.0" fill="#6f9638" stroke="#111" stroke-width="1.8"/>
<polygon points="1255.5,1558.5 1264.0,1567.0 1255.5,1575.5 1247.0,1567.0" fill="#6f9638" stroke="#111" stroke-width="1.8"/>
<polygon points="1287.3,1711.5 1295.8,1720.0 1287.3,1728.5 1278.8,1720.0" fill="#6f9638" stroke="#111" stroke-width="1.8"/>
<polygon points="1319.1,1659.5 1327.6,1668.0 1319.1,1676.5 1310.6,1668.0" fill="#6f9638" stroke="#111" stroke-width="1.8"/>
<polygon points="1350.8,1623.5 1359.3,1632.0 1350.8,1640.5 1342.3,1632.0" fill="#6f9638" stroke="#111" stroke-width="1.8"/>
<polygon points="1382.6,1660.5 1391.1,1669.0 1382.6,1677.5 1374.1,1669.0" fill="#6f9638" stroke="#111" stroke-width="1.8"/>
<polygon points="1414.4,1676.5 1422.9,1685.0 1414.4,1693.5 1405.9,1685.0" fill="#6f9638" stroke="#111" stroke-width="1.8"/>
<polygon points="1477.9,1700.5 1486.4,1709.0 1477.9,1717.5 1469.4,1709.0" fill="#6f9638" stroke="#111" stroke-width="1.8"/>
<polygon points="1509.7,1700.5 1518.2,1709.0 1509.7,1717.5 1501.2,1709.0" fill="#6f9638" stroke="#111" stroke-width="1.8"/>
<polygon points="1541.5,1704.5 1550.0,1713.0 1541.5,1721.5 1533.0,1713.0" fill="#6f9638" stroke="#111" stroke-width="1.8"/>
<polygon points="1573.2,1751.5 1581.8,1760.0 1573.2,1768.5 1564.8,1760.0" fill="#6f9638" stroke="#111" stroke-width="1.8"/>
<polygon points="1605.0,1725.5 1613.5,1734.0 1605.0,1742.5 1596.5,1734.0" fill="#6f9638" stroke="#111" stroke-width="1.8"/>
<polygon points="1636.8,1682.5 1645.3,1691.0 1636.8,1699.5 1628.3,1691.0" fill="#6f9638" stroke="#111" stroke-width="1.8"/>
<polygon points="1668.6,1732.5 1677.1,1741.0 1668.6,1749.5 1660.1,1741.0" fill="#6f9638" stroke="#111" stroke-width="1.8"/>
<polygon points="1700.3,1737.5 1708.8,1746.0 1700.3,1754.5 1691.8,1746.0" fill="#6f9638" stroke="#111" stroke-width="1.8"/>
<polygon points="1732.1,1748.5 1740.6,1757.0 1732.1,1765.5 1723.6,1757.0" fill="#6f9638" stroke="#111" stroke-width="1.8"/>
<polygon points="1763.9,1732.5 1772.4,1741.0 1763.9,1749.5 1755.4,1741.0" fill="#6f9638" stroke="#111" stroke-width="1.8"/>
<polygon points="1795.7,1732.5 1804.2,1741.0 1795.7,1749.5 1787.2,1741.0" fill="#6f9638" stroke="#111" stroke-width="1.8"/>
<polygon points="1827.5,1736.5 1836.0,1745.0 1827.5,1753.5 1819.0,1745.0" fill="#6f9638" stroke="#111" stroke-width="1.8"/>
<polygon points="1859.2,1742.5 1867.7,1751.0 1859.2,1759.5 1850.7,1751.0" fill="#6f9638" stroke="#111" stroke-width="1.8"/>
<polygon points="1891.0,1741.5 1899.5,1750.0 1891.0,1758.5 1882.5,1750.0" fill="#6f9638" stroke="#111" stroke-width="1.8"/>
<polygon points="1922.8,1740.5 1931.3,1749.0 1922.8,1757.5 1914.3,1749.0" fill="#6f9638" stroke="#111" stroke-width="1.8"/>
<polygon points="1954.6,1740.5 1963.1,1749.0 1954.6,1757.5 1946.1,1749.0" fill="#6f9638" stroke="#111" stroke-width="1.8"/>
<polygon points="1986.3,1742.5 1994.8,1751.0 1986.3,1759.5 1977.8,1751.0" fill="#6f9638" stroke="#111" stroke-width="1.8"/>
<polygon points="2018.1,1740.5 2026.6,1749.0 2018.1,1757.5 2009.6,1749.0" fill="#6f9638" stroke="#111" stroke-width="1.8"/>
<polygon points="1128.4,1471.5 1136.9,1480.0 1128.4,1488.5 1119.9,1480.0" fill="#6f9638" stroke="#111" stroke-width="1.8"/>
<polygon points="1160.2,1526.5 1168.7,1535.0 1160.2,1543.5 1151.7,1535.0" fill="#6f9638" stroke="#111" stroke-width="1.8"/>
<polygon points="1192.0,1558.5 1200.5,1567.0 1192.0,1575.5 1183.5,1567.0" fill="#6f9638" stroke="#111" stroke-width="1.8"/>
<polygon points="1223.7,1563.5 1232.2,1572.0 1223.7,1580.5 1215.2,1572.0" fill="#6f9638" stroke="#111" stroke-width="1.8"/>
<polygon points="1255.5,1584.5 1264.0,1593.0 1255.5,1601.5 1247.0,1593.0" fill="#6f9638" stroke="#111" stroke-width="1.8"/>
<polygon points="1287.3,1741.5 1295.8,1750.0 1287.3,1758.5 1278.8,1750.0" fill="#6f9638" stroke="#111" stroke-width="1.8"/>
<polygon points="1319.1,1687.5 1327.6,1696.0 1319.1,1704.5 1310.6,1696.0" fill="#6f9638" stroke="#111" stroke-width="1.8"/>
<polygon points="1350.8,1611.5 1359.3,1620.0 1350.8,1628.5 1342.3,1620.0" fill="#6f9638" stroke="#111" stroke-width="1.8"/>
<polygon points="1382.6,1674.5 1391.1,1683.0 1382.6,1691.5 1374.1,1683.0" fill="#6f9638" stroke="#111" stroke-width="1.8"/>
<polygon points="1414.4,1681.5 1422.9,1690.0 1414.4,1698.5 1405.9,1690.0" fill="#6f9638" stroke="#111" stroke-width="1.8"/>
<polygon points="1477.9,1692.5 1486.4,1701.0 1477.9,1709.5 1469.4,1701.0" fill="#6f9638" stroke="#111" stroke-width="1.8"/>
<polygon points="1509.7,1706.5 1518.2,1715.0 1509.7,1723.5 1501.2,1715.0" fill="#6f9638" stroke="#111" stroke-width="1.8"/>
<polygon points="1541.5,1718.5 1550.0,1727.0 1541.5,1735.5 1533.0,1727.0" fill="#6f9638" stroke="#111" stroke-width="1.8"/>
<polygon points="1573.2,1765.5 1581.8,1774.0 1573.2,1782.5 1564.8,1774.0" fill="#6f9638" stroke="#111" stroke-width="1.8"/>
<polygon points="1605.0,1735.5 1613.5,1744.0 1605.0,1752.5 1596.5,1744.0" fill="#6f9638" stroke="#111" stroke-width="1.8"/>
<polygon points="1636.8,1719.5 1645.3,1728.0 1636.8,1736.5 1628.3,1728.0" fill="#6f9638" stroke="#111" stroke-width="1.8"/>
<polygon points="1668.6,1743.5 1677.1,1752.0 1668.6,1760.5 1660.1,1752.0" fill="#6f9638" stroke="#111" stroke-width="1.8"/>
<polygon points="1700.3,1748.5 1708.8,1757.0 1700.3,1765.5 1691.8,1757.0" fill="#6f9638" stroke="#111" stroke-width="1.8"/>
<polygon points="1732.1,1762.5 1740.6,1771.0 1732.1,1779.5 1723.6,1771.0" fill="#6f9638" stroke="#111" stroke-width="1.8"/>
<polygon points="1763.9,1742.5 1772.4,1751.0 1763.9,1759.5 1755.4,1751.0" fill="#6f9638" stroke="#111" stroke-width="1.8"/>
<polygon points="1795.7,1742.5 1804.2,1751.0 1795.7,1759.5 1787.2,1751.0" fill="#6f9638" stroke="#111" stroke-width="1.8"/>
<polygon points="1827.5,1747.5 1836.0,1756.0 1827.5,1764.5 1819.0,1756.0" fill="#6f9638" stroke="#111" stroke-width="1.8"/>
<polygon points="1859.2,1750.5 1867.7,1759.0 1859.2,1767.5 1850.7,1759.0" fill="#6f9638" stroke="#111" stroke-width="1.8"/>
<polygon points="1891.0,1750.5 1899.5,1759.0 1891.0,1767.5 1882.5,1759.0" fill="#6f9638" stroke="#111" stroke-width="1.8"/>
<polygon points="1922.8,1750.5 1931.3,1759.0 1922.8,1767.5 1914.3,1759.0" fill="#6f9638" stroke="#111" stroke-width="1.8"/>
<polygon points="1954.6,1747.5 1963.1,1756.0 1954.6,1764.5 1946.1,1756.0" fill="#6f9638" stroke="#111" stroke-width="1.8"/>
<polygon points="1986.3,1751.5 1994.8,1760.0 1986.3,1768.5 1977.8,1760.0" fill="#6f9638" stroke="#111" stroke-width="1.8"/>
<polygon points="2018.1,1750.5 2026.6,1759.0 2018.1,1767.5 2009.6,1759.0" fill="#6f9638" stroke="#111" stroke-width="1.8"/>
<rect x="1122.8" y="1476.4" width="11.2" height="11.2" fill="#c6da98" stroke="#222" stroke-width="1.8"/>
<rect x="1154.6" y="1556.4" width="11.2" height="11.2" fill="#c6da98" stroke="#222" stroke-width="1.8"/>
<rect x="1186.4" y="1575.4" width="11.2" height="11.2" fill="#c6da98" stroke="#222" stroke-width="1.8"/>
<rect x="1218.1" y="1576.4" width="11.2" height="11.2" fill="#c6da98" stroke="#222" stroke-width="1.8"/>
<rect x="1249.9" y="1573.4" width="11.2" height="11.2" fill="#c6da98" stroke="#222" stroke-width="1.8"/>
<rect x="1281.7" y="1735.4" width="11.2" height="11.2" fill="#c6da98" stroke="#222" stroke-width="1.8"/>
<rect x="1313.5" y="1636.4" width="11.2" height="11.2" fill="#c6da98" stroke="#222" stroke-width="1.8"/>
<rect x="1345.2" y="1603.4" width="11.2" height="11.2" fill="#c6da98" stroke="#222" stroke-width="1.8"/>
<rect x="1377.0" y="1663.4" width="11.2" height="11.2" fill="#c6da98" stroke="#222" stroke-width="1.8"/>
<rect x="1408.8" y="1679.4" width="11.2" height="11.2" fill="#c6da98" stroke="#222" stroke-width="1.8"/>
<rect x="1472.3" y="1695.4" width="11.2" height="11.2" fill="#c6da98" stroke="#222" stroke-width="1.8"/>
<rect x="1504.1" y="1693.4" width="11.2" height="11.2" fill="#c6da98" stroke="#222" stroke-width="1.8"/>
<rect x="1535.9" y="1707.4" width="11.2" height="11.2" fill="#c6da98" stroke="#222" stroke-width="1.8"/>
<rect x="1567.7" y="1742.4" width="11.2" height="11.2" fill="#c6da98" stroke="#222" stroke-width="1.8"/>
<rect x="1599.4" y="1728.4" width="11.2" height="11.2" fill="#c6da98" stroke="#222" stroke-width="1.8"/>
<rect x="1631.2" y="1700.4" width="11.2" height="11.2" fill="#c6da98" stroke="#222" stroke-width="1.8"/>
<rect x="1663.0" y="1723.4" width="11.2" height="11.2" fill="#c6da98" stroke="#222" stroke-width="1.8"/>
<rect x="1694.8" y="1740.4" width="11.2" height="11.2" fill="#c6da98" stroke="#222" stroke-width="1.8"/>
<rect x="1726.5" y="1751.4" width="11.2" height="11.2" fill="#c6da98" stroke="#222" stroke-width="1.8"/>
<rect x="1758.3" y="1734.4" width="11.2" height="11.2" fill="#c6da98" stroke="#222" stroke-width="1.8"/>
<rect x="1790.1" y="1735.4" width="11.2" height="11.2" fill="#c6da98" stroke="#222" stroke-width="1.8"/>
<rect x="1821.9" y="1739.4" width="11.2" height="11.2" fill="#c6da98" stroke="#222" stroke-width="1.8"/>
<rect x="1853.6" y="1745.4" width="11.2" height="11.2" fill="#c6da98" stroke="#222" stroke-width="1.8"/>
<rect x="1885.4" y="1744.4" width="11.2" height="11.2" fill="#c6da98" stroke="#222" stroke-width="1.8"/>
<rect x="1917.2" y="1743.4" width="11.2" height="11.2" fill="#c6da98" stroke="#222" stroke-width="1.8"/>
<rect x="1949.0" y="1743.4" width="11.2" height="11.2" fill="#c6da98" stroke="#222" stroke-width="1.8"/>
<rect x="1980.7" y="1745.4" width="11.2" height="11.2" fill="#c6da98" stroke="#222" stroke-width="1.8"/>
<rect x="2012.5" y="1743.4" width="11.2" height="11.2" fill="#c6da98" stroke="#222" stroke-width="1.8"/>
<rect x="1122.8" y="1486.4" width="11.2" height="11.2" fill="#c6da98" stroke="#222" stroke-width="1.8"/>
<rect x="1154.6" y="1561.4" width="11.2" height="11.2" fill="#c6da98" stroke="#222" stroke-width="1.8"/>
<rect x="1186.4" y="1581.4" width="11.2" height="11.2" fill="#c6da98" stroke="#222" stroke-width="1.8"/>
<rect x="1218.1" y="1584.4" width="11.2" height="11.2" fill="#c6da98" stroke="#222" stroke-width="1.8"/>
<rect x="1249.9" y="1587.4" width="11.2" height="11.2" fill="#c6da98" stroke="#222" stroke-width="1.8"/>
<rect x="1281.7" y="1729.4" width="11.2" height="11.2" fill="#c6da98" stroke="#222" stroke-width="1.8"/>
<rect x="1313.5" y="1646.4" width="11.2" height="11.2" fill="#c6da98" stroke="#222" stroke-width="1.8"/>
<rect x="1345.2" y="1650.4" width="11.2" height="11.2" fill="#c6da98" stroke="#222" stroke-width="1.8"/>
<rect x="1377.0" y="1677.4" width="11.2" height="11.2" fill="#c6da98" stroke="#222" stroke-width="1.8"/>
<rect x="1408.8" y="1684.4" width="11.2" height="11.2" fill="#c6da98" stroke="#222" stroke-width="1.8"/>
<rect x="1472.3" y="1699.4" width="11.2" height="11.2" fill="#c6da98" stroke="#222" stroke-width="1.8"/>
<rect x="1504.1" y="1699.4" width="11.2" height="11.2" fill="#c6da98" stroke="#222" stroke-width="1.8"/>
<rect x="1535.9" y="1721.4" width="11.2" height="11.2" fill="#c6da98" stroke="#222" stroke-width="1.8"/>
<rect x="1567.7" y="1768.4" width="11.2" height="11.2" fill="#c6da98" stroke="#222" stroke-width="1.8"/>
<rect x="1599.4" y="1738.4" width="11.2" height="11.2" fill="#c6da98" stroke="#222" stroke-width="1.8"/>
<rect x="1631.2" y="1731.4" width="11.2" height="11.2" fill="#c6da98" stroke="#222" stroke-width="1.8"/>
<rect x="1663.0" y="1746.4" width="11.2" height="11.2" fill="#c6da98" stroke="#222" stroke-width="1.8"/>
<rect x="1694.8" y="1751.4" width="11.2" height="11.2" fill="#c6da98" stroke="#222" stroke-width="1.8"/>
<rect x="1726.5" y="1765.4" width="11.2" height="11.2" fill="#c6da98" stroke="#222" stroke-width="1.8"/>
<rect x="1758.3" y="1739.4" width="11.2" height="11.2" fill="#c6da98" stroke="#222" stroke-width="1.8"/>
<rect x="1790.1" y="1739.4" width="11.2" height="11.2" fill="#c6da98" stroke="#222" stroke-width="1.8"/>
<rect x="1821.9" y="1744.4" width="11.2" height="11.2" fill="#c6da98" stroke="#222" stroke-width="1.8"/>
<rect x="1853.6" y="1760.4" width="11.2" height="11.2" fill="#c6da98" stroke="#222" stroke-width="1.8"/>
<rect x="1885.4" y="1746.4" width="11.2" height="11.2" fill="#c6da98" stroke="#222" stroke-width="1.8"/>
<rect x="1917.2" y="1746.4" width="11.2" height="11.2" fill="#c6da98" stroke="#222" stroke-width="1.8"/>
<rect x="1949.0" y="1746.4" width="11.2" height="11.2" fill="#c6da98" stroke="#222" stroke-width="1.8"/>
<rect x="1980.7" y="1754.4" width="11.2" height="11.2" fill="#c6da98" stroke="#222" stroke-width="1.8"/>
<rect x="2012.5" y="1754.4" width="11.2" height="11.2" fill="#c6da98" stroke="#222" stroke-width="1.8"/>
<rect x="1122.8" y="1535.4" width="11.2" height="11.2" fill="#c6da98" stroke="#222" stroke-width="1.8"/>
<rect x="1154.6" y="1524.4" width="11.2" height="11.2" fill="#c6da98" stroke="#222" stroke-width="1.8"/>
<rect x="1186.4" y="1554.4" width="11.2" height="11.2" fill="#c6da98" stroke="#222" stroke-width="1.8"/>
<rect x="1218.1" y="1616.4" width="11.2" height="11.2" fill="#c6da98" stroke="#222" stroke-width="1.8"/>
<rect x="1249.9" y="1679.4" width="11.2" height="11.2" fill="#c6da98" stroke="#222" stroke-width="1.8"/>
<rect x="1281.7" y="1739.4" width="11.2" height="11.2" fill="#c6da98" stroke="#222" stroke-width="1.8"/>
<rect x="1313.5" y="1683.4" width="11.2" height="11.2" fill="#c6da98" stroke="#222" stroke-width="1.8"/>
<rect x="1345.2" y="1656.4" width="11.2" height="11.2" fill="#c6da98" stroke="#222" stroke-width="1.8"/>
<rect x="1377.0" y="1696.4" width="11.2" height="11.2" fill="#c6da98" stroke="#222" stroke-width="1.8"/>
<rect x="1408.8" y="1705.4" width="11.2" height="11.2" fill="#c6da98" stroke="#222" stroke-width="1.8"/>
<rect x="1472.3" y="1699.4" width="11.2" height="11.2" fill="#c6da98" stroke="#222" stroke-width="1.8"/>
<rect x="1504.1" y="1704.4" width="11.2" height="11.2" fill="#c6da98" stroke="#222" stroke-width="1.8"/>
<rect x="1535.9" y="1732.4" width="11.2" height="11.2" fill="#c6da98" stroke="#222" stroke-width="1.8"/>
<rect x="1567.7" y="1781.4" width="11.2" height="11.2" fill="#c6da98" stroke="#222" stroke-width="1.8"/>
<rect x="1599.4" y="1753.4" width="11.2" height="11.2" fill="#c6da98" stroke="#222" stroke-width="1.8"/>
<rect x="1631.2" y="1747.4" width="11.2" height="11.2" fill="#c6da98" stroke="#222" stroke-width="1.8"/>
<rect x="1663.0" y="1757.4" width="11.2" height="11.2" fill="#c6da98" stroke="#222" stroke-width="1.8"/>
<rect x="1694.8" y="1763.4" width="11.2" height="11.2" fill="#c6da98" stroke="#222" stroke-width="1.8"/>
<rect x="1726.5" y="1779.4" width="11.2" height="11.2" fill="#c6da98" stroke="#222" stroke-width="1.8"/>
<rect x="1758.3" y="1744.4" width="11.2" height="11.2" fill="#c6da98" stroke="#222" stroke-width="1.8"/>
<rect x="1790.1" y="1765.4" width="11.2" height="11.2" fill="#c6da98" stroke="#222" stroke-width="1.8"/>
<rect x="1821.9" y="1746.4" width="11.2" height="11.2" fill="#c6da98" stroke="#222" stroke-width="1.8"/>
<rect x="1853.6" y="1760.4" width="11.2" height="11.2" fill="#c6da98" stroke="#222" stroke-width="1.8"/>
<rect x="1885.4" y="1749.4" width="11.2" height="11.2" fill="#c6da98" stroke="#222" stroke-width="1.8"/>
<rect x="1917.2" y="1749.4" width="11.2" height="11.2" fill="#c6da98" stroke="#222" stroke-width="1.8"/>
<rect x="1949.0" y="1749.4" width="11.2" height="11.2" fill="#c6da98" stroke="#222" stroke-width="1.8"/>
<rect x="1980.7" y="1764.4" width="11.2" height="11.2" fill="#c6da98" stroke="#222" stroke-width="1.8"/>
<rect x="2012.5" y="1764.4" width="11.2" height="11.2" fill="#c6da98" stroke="#222" stroke-width="1.8"/>
<rect x="1113.2" y="1320.0" width="919.0" height="535.0" fill="none" stroke="#1e1e1e" stroke-width="3"/>
<line x1="1113.2" y1="1816.5" x2="1118.2" y2="1816.5" stroke="#1e1e1e" stroke-width="2.4" />
<line x1="1113.2" y1="1794.1" x2="1118.2" y2="1794.1" stroke="#1e1e1e" stroke-width="2.4" />
<line x1="1113.2" y1="1778.2" x2="1118.2" y2="1778.2" stroke="#1e1e1e" stroke-width="2.4" />
<line x1="1113.2" y1="1765.8" x2="1118.2" y2="1765.8" stroke="#1e1e1e" stroke-width="2.4" />
<line x1="1113.2" y1="1755.7" x2="1118.2" y2="1755.7" stroke="#1e1e1e" stroke-width="2.4" />
<line x1="1113.2" y1="1747.2" x2="1118.2" y2="1747.2" stroke="#1e1e1e" stroke-width="2.4" />
<line x1="1113.2" y1="1739.8" x2="1118.2" y2="1739.8" stroke="#1e1e1e" stroke-width="2.4" />
<line x1="1113.2" y1="1733.3" x2="1118.2" y2="1733.3" stroke="#1e1e1e" stroke-width="2.4" />
<line x1="1113.2" y1="1727.5" x2="1120.2" y2="1727.5" stroke="#1e1e1e" stroke-width="2.4" />
<line x1="1113.2" y1="1689.2" x2="1118.2" y2="1689.2" stroke="#1e1e1e" stroke-width="2.4" />
<line x1="1113.2" y1="1666.8" x2="1118.2" y2="1666.8" stroke="#1e1e1e" stroke-width="2.4" />
<line x1="1113.2" y1="1650.9" x2="1118.2" y2="1650.9" stroke="#1e1e1e" stroke-width="2.4" />
<line x1="1113.2" y1="1638.5" x2="1118.2" y2="1638.5" stroke="#1e1e1e" stroke-width="2.4" />
<line x1="1113.2" y1="1628.4" x2="1118.2" y2="1628.4" stroke="#1e1e1e" stroke-width="2.4" />
<line x1="1113.2" y1="1619.9" x2="1118.2" y2="1619.9" stroke="#1e1e1e" stroke-width="2.4" />
<line x1="1113.2" y1="1612.5" x2="1118.2" y2="1612.5" stroke="#1e1e1e" stroke-width="2.4" />
<line x1="1113.2" y1="1606.0" x2="1118.2" y2="1606.0" stroke="#1e1e1e" stroke-width="2.4" />
<line x1="1113.2" y1="1600.2" x2="1120.2" y2="1600.2" stroke="#1e1e1e" stroke-width="2.4" />
<line x1="1113.2" y1="1561.9" x2="1118.2" y2="1561.9" stroke="#1e1e1e" stroke-width="2.4" />
<line x1="1113.2" y1="1539.5" x2="1118.2" y2="1539.5" stroke="#1e1e1e" stroke-width="2.4" />
<line x1="1113.2" y1="1523.6" x2="1118.2" y2="1523.6" stroke="#1e1e1e" stroke-width="2.4" />
<line x1="1113.2" y1="1511.2" x2="1118.2" y2="1511.2" stroke="#1e1e1e" stroke-width="2.4" />
<line x1="1113.2" y1="1501.1" x2="1118.2" y2="1501.1" stroke="#1e1e1e" stroke-width="2.4" />
<line x1="1113.2" y1="1492.6" x2="1118.2" y2="1492.6" stroke="#1e1e1e" stroke-width="2.4" />
<line x1="1113.2" y1="1485.2" x2="1118.2" y2="1485.2" stroke="#1e1e1e" stroke-width="2.4" />
<line x1="1113.2" y1="1478.7" x2="1118.2" y2="1478.7" stroke="#1e1e1e" stroke-width="2.4" />
<line x1="1113.2" y1="1472.9" x2="1120.2" y2="1472.9" stroke="#1e1e1e" stroke-width="2.4" />
<line x1="1113.2" y1="1434.6" x2="1118.2" y2="1434.6" stroke="#1e1e1e" stroke-width="2.4" />
<line x1="1113.2" y1="1412.2" x2="1118.2" y2="1412.2" stroke="#1e1e1e" stroke-width="2.4" />
<line x1="1113.2" y1="1396.3" x2="1118.2" y2="1396.3" stroke="#1e1e1e" stroke-width="2.4" />
<line x1="1113.2" y1="1383.9" x2="1118.2" y2="1383.9" stroke="#1e1e1e" stroke-width="2.4" />
<line x1="1113.2" y1="1373.8" x2="1118.2" y2="1373.8" stroke="#1e1e1e" stroke-width="2.4" />
<line x1="1113.2" y1="1365.3" x2="1118.2" y2="1365.3" stroke="#1e1e1e" stroke-width="2.4" />
<line x1="1113.2" y1="1357.9" x2="1118.2" y2="1357.9" stroke="#1e1e1e" stroke-width="2.4" />
<line x1="1113.2" y1="1351.4" x2="1118.2" y2="1351.4" stroke="#1e1e1e" stroke-width="2.4" />
<line x1="1144.3" y1="1855.0" x2="1144.3" y2="1861.0" stroke="#1e1e1e" stroke-width="2.4" />
<line x1="1176.1" y1="1855.0" x2="1176.1" y2="1861.0" stroke="#1e1e1e" stroke-width="2.4" />
<line x1="1207.9" y1="1855.0" x2="1207.9" y2="1861.0" stroke="#1e1e1e" stroke-width="2.4" />
<line x1="1239.6" y1="1855.0" x2="1239.6" y2="1861.0" stroke="#1e1e1e" stroke-width="2.4" />
<line x1="1271.4" y1="1855.0" x2="1271.4" y2="1861.0" stroke="#1e1e1e" stroke-width="2.4" />
<line x1="1303.2" y1="1855.0" x2="1303.2" y2="1861.0" stroke="#1e1e1e" stroke-width="2.4" />
<line x1="1335.0" y1="1855.0" x2="1335.0" y2="1861.0" stroke="#1e1e1e" stroke-width="2.4" />
<line x1="1366.7" y1="1855.0" x2="1366.7" y2="1861.0" stroke="#1e1e1e" stroke-width="2.4" />
<line x1="1398.5" y1="1855.0" x2="1398.5" y2="1861.0" stroke="#1e1e1e" stroke-width="2.4" />
<line x1="1430.3" y1="1855.0" x2="1430.3" y2="1861.0" stroke="#1e1e1e" stroke-width="2.4" />
<line x1="1462.1" y1="1855.0" x2="1462.1" y2="1861.0" stroke="#1e1e1e" stroke-width="2.4" />
<line x1="1493.8" y1="1855.0" x2="1493.8" y2="1861.0" stroke="#1e1e1e" stroke-width="2.4" />
<line x1="1525.6" y1="1855.0" x2="1525.6" y2="1861.0" stroke="#1e1e1e" stroke-width="2.4" />
<line x1="1557.4" y1="1855.0" x2="1557.4" y2="1861.0" stroke="#1e1e1e" stroke-width="2.4" />
<line x1="1589.2" y1="1855.0" x2="1589.2" y2="1861.0" stroke="#1e1e1e" stroke-width="2.4" />
<line x1="1620.9" y1="1855.0" x2="1620.9" y2="1861.0" stroke="#1e1e1e" stroke-width="2.4" />
<line x1="1652.7" y1="1855.0" x2="1652.7" y2="1861.0" stroke="#1e1e1e" stroke-width="2.4" />
<line x1="1684.5" y1="1855.0" x2="1684.5" y2="1861.0" stroke="#1e1e1e" stroke-width="2.4" />
<line x1="1716.2" y1="1855.0" x2="1716.2" y2="1861.0" stroke="#1e1e1e" stroke-width="2.4" />
<line x1="1748.0" y1="1855.0" x2="1748.0" y2="1861.0" stroke="#1e1e1e" stroke-width="2.4" />
<line x1="1779.8" y1="1855.0" x2="1779.8" y2="1861.0" stroke="#1e1e1e" stroke-width="2.4" />
<line x1="1811.6" y1="1855.0" x2="1811.6" y2="1861.0" stroke="#1e1e1e" stroke-width="2.4" />
<line x1="1843.4" y1="1855.0" x2="1843.4" y2="1861.0" stroke="#1e1e1e" stroke-width="2.4" />
<line x1="1875.1" y1="1855.0" x2="1875.1" y2="1861.0" stroke="#1e1e1e" stroke-width="2.4" />
<line x1="1906.9" y1="1855.0" x2="1906.9" y2="1861.0" stroke="#1e1e1e" stroke-width="2.4" />
<line x1="1938.7" y1="1855.0" x2="1938.7" y2="1861.0" stroke="#1e1e1e" stroke-width="2.4" />
<line x1="1970.5" y1="1855.0" x2="1970.5" y2="1861.0" stroke="#1e1e1e" stroke-width="2.4" />
<line x1="2002.2" y1="1855.0" x2="2002.2" y2="1861.0" stroke="#1e1e1e" stroke-width="2.4" />
<text transform="translate(1106.5,1357.3) scale(1,1.04)" font-size="30" text-anchor="end" fill="#1a1a1a" letter-spacing="-1">1000</text>
<text transform="translate(1106.5,1479.4) scale(1,1.04)" font-size="30" text-anchor="end" fill="#1a1a1a" letter-spacing="-1">100</text>
<text transform="translate(1106.5,1609.4) scale(1,1.04)" font-size="30" text-anchor="end" fill="#1a1a1a" letter-spacing="-1">10</text>
<text transform="translate(1106.5,1736.6) scale(1,1.04)" font-size="30" text-anchor="end" fill="#1a1a1a" letter-spacing="-1">1</text>
<text transform="translate(1106.5,1862.5) scale(1,1.04)" font-size="30" text-anchor="end" fill="#1a1a1a" letter-spacing="-1">0.1</text>
<text transform="translate(1132.8,1882.6) scale(1,1.04)" font-size="24" text-anchor="middle" fill="#1a1a1a" >Cs</text>
<text transform="translate(1164.6,1882.6) scale(1,1.04)" font-size="24" text-anchor="middle" fill="#1a1a1a" >Rb</text>
<text transform="translate(1196.4,1882.6) scale(1,1.04)" font-size="24" text-anchor="middle" fill="#1a1a1a" >Ba</text>
<text transform="translate(1228.1,1882.6) scale(1,1.04)" font-size="24" text-anchor="middle" fill="#1a1a1a" >Th</text>
<text transform="translate(1259.9,1882.6) scale(1,1.04)" font-size="24" text-anchor="middle" fill="#1a1a1a" >U</text>
<text transform="translate(1291.7,1882.6) scale(1,1.04)" font-size="24" text-anchor="middle" fill="#1a1a1a" >Nb</text>
<text transform="translate(1323.5,1882.6) scale(1,1.04)" font-size="24" text-anchor="middle" fill="#1a1a1a" >Ta</text>
<text transform="translate(1355.2,1882.6) scale(1,1.04)" font-size="24" text-anchor="middle" fill="#1a1a1a" >K</text>
<text transform="translate(1387.0,1882.6) scale(1,1.04)" font-size="24" text-anchor="middle" fill="#1a1a1a" >La</text>
<text transform="translate(1418.8,1882.6) scale(1,1.04)" font-size="24" text-anchor="middle" fill="#1a1a1a" >Ce</text>
<text transform="translate(1450.6,1882.6) scale(1,1.04)" font-size="24" text-anchor="middle" fill="#1a1a1a" >Pb</text>
<text transform="translate(1482.3,1882.6) scale(1,1.04)" font-size="24" text-anchor="middle" fill="#1a1a1a" >Pr</text>
<text transform="translate(1514.1,1882.6) scale(1,1.04)" font-size="24" text-anchor="middle" fill="#1a1a1a" >Sr</text>
<text transform="translate(1545.9,1882.6) scale(1,1.04)" font-size="24" text-anchor="middle" fill="#1a1a1a" >Nd</text>
<text transform="translate(1577.7,1882.6) scale(1,1.04)" font-size="24" text-anchor="middle" fill="#1a1a1a" >P</text>
<text transform="translate(1609.4,1882.6) scale(1,1.04)" font-size="24" text-anchor="middle" fill="#1a1a1a" >Zr</text>
<text transform="translate(1641.2,1882.6) scale(1,1.04)" font-size="24" text-anchor="middle" fill="#1a1a1a" >Hf</text>
<text transform="translate(1673.0,1882.6) scale(1,1.04)" font-size="24" text-anchor="middle" fill="#1a1a1a" >Sm</text>
<text transform="translate(1704.8,1882.6) scale(1,1.04)" font-size="24" text-anchor="middle" fill="#1a1a1a" >Eu</text>
<text transform="translate(1736.5,1882.6) scale(1,1.04)" font-size="24" text-anchor="middle" fill="#1a1a1a" >Ti</text>
<text transform="translate(1768.3,1882.6) scale(1,1.04)" font-size="24" text-anchor="middle" fill="#1a1a1a" >Gd</text>
<text transform="translate(1800.1,1882.6) scale(1,1.04)" font-size="24" text-anchor="middle" fill="#1a1a1a" >Tb</text>
<text transform="translate(1831.9,1882.6) scale(1,1.04)" font-size="24" text-anchor="middle" fill="#1a1a1a" >Dy</text>
<text transform="translate(1863.6,1882.6) scale(1,1.04)" font-size="24" text-anchor="middle" fill="#1a1a1a" >Y</text>
<text transform="translate(1895.4,1882.6) scale(1,1.04)" font-size="24" text-anchor="middle" fill="#1a1a1a" >Ho</text>
<text transform="translate(1927.2,1882.6) scale(1,1.04)" font-size="24" text-anchor="middle" fill="#1a1a1a" >Er</text>
<text transform="translate(1959.0,1882.6) scale(1,1.04)" font-size="24" text-anchor="middle" fill="#1a1a1a" >Tm</text>
<text transform="translate(1990.7,1882.6) scale(1,1.04)" font-size="24" text-anchor="middle" fill="#1a1a1a" >Yb</text>
<text transform="translate(2022.5,1882.6) scale(1,1.04)" font-size="24" text-anchor="middle" fill="#1a1a1a" >Lu</text>
<text transform="translate(1151.2,1416.4) scale(1,1.04)" font-size="29" text-anchor="middle" fill="#1a1a1a" >1</text>
<text transform="translate(1048.0,1606.5) rotate(-90) scale(1,1.04)" font-size="33" text-anchor="middle" fill="#1a1a1a" >Rock/N-MORB</text>
<rect x="1114.7" y="1321.2" width="54.3" height="57.2" fill="#fff" stroke="#8c8c8c" stroke-width="1.7"/>
<text transform="translate(1124.5,1357.0) scale(1,1.04)" font-size="34" text-anchor="start" fill="#1a1a1a" >(f)</text>
</svg>
</body></html>
